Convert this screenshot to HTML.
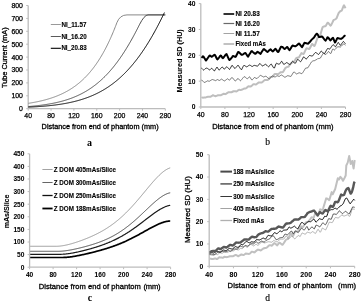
<!DOCTYPE html>
<html><head><meta charset="utf-8"><style>
html,body{margin:0;padding:0;background:#fff;width:362px;height:304px;overflow:hidden;}
svg{display:block;filter:grayscale(100%);}

</style></head><body>
<svg width="362" height="304" viewBox="0 0 362 304">
<rect width="362" height="304" fill="#fff"/>
<line x1="28.2" y1="5.5" x2="28.2" y2="108.7" stroke="#bcbcbc" stroke-width="1.3"/>
<line x1="28.2" y1="108.7" x2="165.3" y2="108.7" stroke="#bcbcbc" stroke-width="1.3"/>
<line x1="26.2" y1="108.7" x2="28.2" y2="108.7" stroke="#bcbcbc" stroke-width="1"/>
<text x="22.9" y="111.15" font-size="6.9" text-anchor="end" font-weight="normal" fill="#000" font-family='"Liberation Sans", sans-serif'  stroke="#000" stroke-width="0.25">0</text>
<line x1="26.2" y1="95.8" x2="28.2" y2="95.8" stroke="#bcbcbc" stroke-width="1"/>
<text x="22.9" y="98.25" font-size="6.9" text-anchor="end" font-weight="normal" fill="#000" font-family='"Liberation Sans", sans-serif'  stroke="#000" stroke-width="0.25">100</text>
<line x1="26.2" y1="82.9" x2="28.2" y2="82.9" stroke="#bcbcbc" stroke-width="1"/>
<text x="22.9" y="85.35" font-size="6.9" text-anchor="end" font-weight="normal" fill="#000" font-family='"Liberation Sans", sans-serif'  stroke="#000" stroke-width="0.25">200</text>
<line x1="26.2" y1="70" x2="28.2" y2="70" stroke="#bcbcbc" stroke-width="1"/>
<text x="22.9" y="72.45" font-size="6.9" text-anchor="end" font-weight="normal" fill="#000" font-family='"Liberation Sans", sans-serif'  stroke="#000" stroke-width="0.25">300</text>
<line x1="26.2" y1="57.1" x2="28.2" y2="57.1" stroke="#bcbcbc" stroke-width="1"/>
<text x="22.9" y="59.55" font-size="6.9" text-anchor="end" font-weight="normal" fill="#000" font-family='"Liberation Sans", sans-serif'  stroke="#000" stroke-width="0.25">400</text>
<line x1="26.2" y1="44.2" x2="28.2" y2="44.2" stroke="#bcbcbc" stroke-width="1"/>
<text x="22.9" y="46.65" font-size="6.9" text-anchor="end" font-weight="normal" fill="#000" font-family='"Liberation Sans", sans-serif'  stroke="#000" stroke-width="0.25">500</text>
<line x1="26.2" y1="31.3" x2="28.2" y2="31.3" stroke="#bcbcbc" stroke-width="1"/>
<text x="22.9" y="33.75" font-size="6.9" text-anchor="end" font-weight="normal" fill="#000" font-family='"Liberation Sans", sans-serif'  stroke="#000" stroke-width="0.25">600</text>
<line x1="26.2" y1="18.4" x2="28.2" y2="18.4" stroke="#bcbcbc" stroke-width="1"/>
<text x="22.9" y="20.85" font-size="6.9" text-anchor="end" font-weight="normal" fill="#000" font-family='"Liberation Sans", sans-serif'  stroke="#000" stroke-width="0.25">700</text>
<line x1="26.2" y1="5.5" x2="28.2" y2="5.5" stroke="#bcbcbc" stroke-width="1"/>
<text x="22.9" y="7.95" font-size="6.9" text-anchor="end" font-weight="normal" fill="#000" font-family='"Liberation Sans", sans-serif'  stroke="#000" stroke-width="0.25">800</text>
<line x1="28.2" y1="108.7" x2="28.2" y2="110.7" stroke="#bcbcbc" stroke-width="1"/>
<text x="28.2" y="118.25" font-size="6.9" text-anchor="middle" font-weight="normal" fill="#000" font-family='"Liberation Sans", sans-serif'  stroke="#000" stroke-width="0.25">40</text>
<line x1="51.05" y1="108.7" x2="51.05" y2="110.7" stroke="#bcbcbc" stroke-width="1"/>
<text x="51.05" y="118.25" font-size="6.9" text-anchor="middle" font-weight="normal" fill="#000" font-family='"Liberation Sans", sans-serif'  stroke="#000" stroke-width="0.25">80</text>
<line x1="73.9" y1="108.7" x2="73.9" y2="110.7" stroke="#bcbcbc" stroke-width="1"/>
<text x="73.9" y="118.25" font-size="6.9" text-anchor="middle" font-weight="normal" fill="#000" font-family='"Liberation Sans", sans-serif'  stroke="#000" stroke-width="0.25">120</text>
<line x1="96.75" y1="108.7" x2="96.75" y2="110.7" stroke="#bcbcbc" stroke-width="1"/>
<text x="96.75" y="118.25" font-size="6.9" text-anchor="middle" font-weight="normal" fill="#000" font-family='"Liberation Sans", sans-serif'  stroke="#000" stroke-width="0.25">160</text>
<line x1="119.6" y1="108.7" x2="119.6" y2="110.7" stroke="#bcbcbc" stroke-width="1"/>
<text x="119.6" y="118.25" font-size="6.9" text-anchor="middle" font-weight="normal" fill="#000" font-family='"Liberation Sans", sans-serif'  stroke="#000" stroke-width="0.25">200</text>
<line x1="142.45" y1="108.7" x2="142.45" y2="110.7" stroke="#bcbcbc" stroke-width="1"/>
<text x="142.45" y="118.25" font-size="6.9" text-anchor="middle" font-weight="normal" fill="#000" font-family='"Liberation Sans", sans-serif'  stroke="#000" stroke-width="0.25">240</text>
<line x1="165.3" y1="108.7" x2="165.3" y2="110.7" stroke="#bcbcbc" stroke-width="1"/>
<text x="165.3" y="118.25" font-size="6.9" text-anchor="middle" font-weight="normal" fill="#000" font-family='"Liberation Sans", sans-serif'  stroke="#000" stroke-width="0.25">280</text>
<text x="0" y="0" font-size="7.6" font-weight="normal" fill="#000" font-family='"Liberation Sans", sans-serif' textLength="60.6" lengthAdjust="spacingAndGlyphs" transform="translate(7 88) rotate(-90)" stroke="#000" stroke-width="0.3">Tube Current (mA)</text>
<text x="41.6" y="128.7" font-size="7.3" text-anchor="start" font-weight="normal" fill="#000" font-family='"Liberation Sans", sans-serif' textLength="117" lengthAdjust="spacing" stroke="#000" stroke-width="0.3">Distance from end of phantom (mm)</text>
<text x="89.6" y="145.6" font-size="10" text-anchor="middle" font-weight="bold" fill="#000" font-family='"Liberation Serif", serif'  >a</text>
<line x1="50.8" y1="24.5" x2="60.9" y2="24.5" stroke="#999" stroke-width="1"/>
<text x="61.4" y="26.6" font-size="6.4" text-anchor="start" font-weight="bold" fill="#000" font-family='"Liberation Sans", sans-serif' textLength="25.2" lengthAdjust="spacingAndGlyphs" stroke="#000" stroke-width="0.1">NI_11.57</text>
<line x1="50.8" y1="36.5" x2="60.9" y2="36.5" stroke="#5a5a5a" stroke-width="1"/>
<text x="61.4" y="38.6" font-size="6.4" text-anchor="start" font-weight="bold" fill="#000" font-family='"Liberation Sans", sans-serif' textLength="25.2" lengthAdjust="spacingAndGlyphs" stroke="#000" stroke-width="0.1">NI_16.20</text>
<line x1="50.8" y1="48.3" x2="60.9" y2="48.3" stroke="#000" stroke-width="1.1"/>
<text x="61.4" y="50.4" font-size="6.4" text-anchor="start" font-weight="bold" fill="#000" font-family='"Liberation Sans", sans-serif' textLength="25.2" lengthAdjust="spacingAndGlyphs" stroke="#000" stroke-width="0.1">NI_20.83</text>
<path d="M28.4 103.32 L28.9 103.24 L29.4 103.16 L29.9 103.08 L30.4 103 L30.9 102.92 L31.4 102.83 L31.9 102.75 L32.4 102.66 L32.9 102.57 L33.4 102.48 L33.9 102.39 L34.4 102.3 L34.9 102.2 L35.4 102.11 L35.9 102.01 L36.4 101.91 L36.9 101.81 L37.4 101.71 L37.9 101.6 L38.4 101.5 L38.9 101.39 L39.4 101.28 L39.9 101.17 L40.4 101.05 L40.9 100.94 L41.4 100.82 L41.9 100.7 L42.4 100.58 L42.9 100.46 L43.4 100.33 L43.9 100.2 L44.4 100.07 L44.9 99.94 L45.4 99.81 L45.9 99.67 L46.4 99.53 L46.9 99.39 L47.4 99.25 L47.9 99.1 L48.4 98.95 L48.9 98.8 L49.4 98.65 L49.9 98.49 L50.4 98.34 L50.9 98.17 L51.4 98.01 L51.9 97.84 L52.4 97.67 L52.9 97.5 L53.4 97.33 L53.9 97.15 L54.4 96.97 L54.9 96.78 L55.4 96.6 L55.9 96.41 L56.4 96.21 L56.9 96.01 L57.4 95.81 L57.9 95.61 L58.4 95.4 L58.9 95.19 L59.4 94.98 L59.9 94.76 L60.4 94.54 L60.9 94.31 L61.4 94.09 L61.9 93.85 L62.4 93.62 L62.9 93.38 L63.4 93.13 L63.9 92.88 L64.4 92.63 L64.9 92.37 L65.4 92.11 L65.9 91.84 L66.4 91.57 L66.9 91.3 L67.4 91.02 L67.9 90.74 L68.4 90.45 L68.9 90.15 L69.4 89.86 L69.9 89.55 L70.4 89.24 L70.9 88.93 L71.4 88.61 L71.9 88.29 L72.4 87.96 L72.9 87.62 L73.4 87.28 L73.9 86.93 L74.4 86.58 L74.9 86.22 L75.4 85.86 L75.9 85.49 L76.4 85.11 L76.9 84.73 L77.4 84.34 L77.9 83.95 L78.4 83.55 L78.9 83.14 L79.4 82.72 L79.9 82.3 L80.4 81.87 L80.9 81.44 L81.4 80.99 L81.9 80.54 L82.4 80.09 L82.9 79.62 L83.4 79.15 L83.9 78.67 L84.4 78.18 L84.9 77.68 L85.4 77.18 L85.9 76.67 L86.4 76.15 L86.9 75.62 L87.4 75.08 L87.9 74.53 L88.4 73.98 L88.9 73.41 L89.4 72.84 L89.9 72.26 L90.4 71.67 L90.9 71.07 L91.4 70.45 L91.9 69.83 L92.4 69.2 L92.9 68.56 L93.4 67.91 L93.9 67.25 L94.4 66.58 L94.9 65.89 L95.4 65.2 L95.9 64.5 L96.4 63.78 L96.9 63.05 L97.4 62.31 L97.9 61.56 L98.4 60.8 L98.9 60.03 L99.4 59.24 L99.9 58.44 L100.4 57.63 L100.9 56.81 L101.4 55.97 L101.9 55.12 L102.4 54.26 L102.9 53.39 L103.4 52.5 L103.9 51.59 L104.4 50.68 L104.9 49.74 L105.4 48.8 L105.9 47.84 L106.4 46.86 L106.9 45.87 L107.4 44.87 L107.9 43.85 L108.4 42.81 L108.9 41.76 L109.4 40.7 L109.9 39.61 L110.4 38.51 L110.9 37.4 L111.4 36.27 L111.9 35.12 L112.4 33.95 L112.9 32.77 L113.4 31.56 L113.9 30.35 L114.4 29.11 L114.9 27.85 L115.4 26.58 L115.9 25.29 L116.4 23.97 L116.9 22.64 Q119.88 14.9 127 14.9 L165.3 14.9" fill="none" stroke="#7a7a7a" stroke-width="0.9" stroke-linejoin="round" stroke-linecap="butt" />
<path d="M28.4 106.54 L28.9 106.5 L29.4 106.46 L29.9 106.42 L30.4 106.38 L30.9 106.33 L31.4 106.29 L31.9 106.24 L32.4 106.19 L32.9 106.15 L33.4 106.1 L33.9 106.05 L34.4 106 L34.9 105.95 L35.4 105.9 L35.9 105.84 L36.4 105.79 L36.9 105.73 L37.4 105.68 L37.9 105.62 L38.4 105.56 L38.9 105.5 L39.4 105.44 L39.9 105.38 L40.4 105.32 L40.9 105.25 L41.4 105.19 L41.9 105.12 L42.4 105.06 L42.9 104.99 L43.4 104.92 L43.9 104.85 L44.4 104.77 L44.9 104.7 L45.4 104.63 L45.9 104.55 L46.4 104.47 L46.9 104.39 L47.4 104.31 L47.9 104.23 L48.4 104.14 L48.9 104.06 L49.4 103.97 L49.9 103.88 L50.4 103.79 L50.9 103.7 L51.4 103.61 L51.9 103.51 L52.4 103.42 L52.9 103.32 L53.4 103.22 L53.9 103.12 L54.4 103.01 L54.9 102.91 L55.4 102.8 L55.9 102.69 L56.4 102.58 L56.9 102.47 L57.4 102.35 L57.9 102.24 L58.4 102.12 L58.9 102 L59.4 101.87 L59.9 101.75 L60.4 101.62 L60.9 101.49 L61.4 101.36 L61.9 101.22 L62.4 101.09 L62.9 100.95 L63.4 100.81 L63.9 100.66 L64.4 100.51 L64.9 100.37 L65.4 100.21 L65.9 100.06 L66.4 99.9 L66.9 99.75 L67.4 99.58 L67.9 99.42 L68.4 99.25 L68.9 99.08 L69.4 98.91 L69.9 98.73 L70.4 98.55 L70.9 98.37 L71.4 98.19 L71.9 98 L72.4 97.81 L72.9 97.61 L73.4 97.42 L73.9 97.22 L74.4 97.01 L74.9 96.8 L75.4 96.59 L75.9 96.38 L76.4 96.16 L76.9 95.94 L77.4 95.72 L77.9 95.49 L78.4 95.26 L78.9 95.02 L79.4 94.78 L79.9 94.54 L80.4 94.3 L80.9 94.05 L81.4 93.79 L81.9 93.53 L82.4 93.27 L82.9 93 L83.4 92.73 L83.9 92.46 L84.4 92.18 L84.9 91.9 L85.4 91.61 L85.9 91.32 L86.4 91.02 L86.9 90.72 L87.4 90.41 L87.9 90.1 L88.4 89.79 L88.9 89.47 L89.4 89.15 L89.9 88.82 L90.4 88.49 L90.9 88.15 L91.4 87.8 L91.9 87.45 L92.4 87.1 L92.9 86.74 L93.4 86.38 L93.9 86.01 L94.4 85.64 L94.9 85.26 L95.4 84.87 L95.9 84.48 L96.4 84.09 L96.9 83.68 L97.4 83.28 L97.9 82.86 L98.4 82.45 L98.9 82.02 L99.4 81.59 L99.9 81.16 L100.4 80.71 L100.9 80.27 L101.4 79.81 L101.9 79.35 L102.4 78.89 L102.9 78.42 L103.4 77.94 L103.9 77.45 L104.4 76.96 L104.9 76.47 L105.4 75.96 L105.9 75.45 L106.4 74.94 L106.9 74.41 L107.4 73.88 L107.9 73.35 L108.4 72.8 L108.9 72.25 L109.4 71.7 L109.9 71.13 L110.4 70.56 L110.9 69.99 L111.4 69.4 L111.9 68.81 L112.4 68.21 L112.9 67.61 L113.4 66.99 L113.9 66.37 L114.4 65.75 L114.9 65.11 L115.4 64.47 L115.9 63.82 L116.4 63.17 L116.9 62.5 L117.4 61.83 L117.9 61.15 L118.4 60.47 L118.9 59.77 L119.4 59.07 L119.9 58.37 L120.4 57.65 L120.9 56.93 L121.4 56.19 L121.9 55.46 L122.4 54.71 L122.9 53.96 L123.4 53.19 L123.9 52.42 L124.4 51.65 L124.9 50.86 L125.4 50.07 L125.9 49.27 L126.4 48.46 L126.9 47.64 L127.4 46.82 L127.9 45.99 L128.4 45.15 L128.9 44.3 L129.4 43.45 L129.9 42.59 L130.4 41.72 L130.9 40.84 L131.4 39.95 L131.9 39.06 L132.4 38.16 L132.9 37.25 L133.4 36.33 L133.9 35.41 L134.4 34.48 L134.9 33.54 L135.4 32.6 L135.9 31.64 L136.4 30.68 L136.9 29.71 L137.4 28.74 L137.9 27.75 L138.4 26.76 L138.9 25.77 L139.4 24.76 Q144.39 14.9 148 14.9 L165.3 14.9" fill="none" stroke="#3c3c3c" stroke-width="0.9" stroke-linejoin="round" stroke-linecap="butt" />
<path d="M28.4 107.15 L28.9 107.13 L29.4 107.1 L29.9 107.08 L30.4 107.05 L30.9 107.03 L31.4 107 L31.9 106.98 L32.4 106.95 L32.9 106.92 L33.4 106.9 L33.9 106.87 L34.4 106.84 L34.9 106.81 L35.4 106.78 L35.9 106.75 L36.4 106.72 L36.9 106.69 L37.4 106.66 L37.9 106.62 L38.4 106.59 L38.9 106.56 L39.4 106.52 L39.9 106.49 L40.4 106.45 L40.9 106.41 L41.4 106.37 L41.9 106.34 L42.4 106.3 L42.9 106.26 L43.4 106.22 L43.9 106.18 L44.4 106.13 L44.9 106.09 L45.4 106.05 L45.9 106 L46.4 105.96 L46.9 105.91 L47.4 105.86 L47.9 105.81 L48.4 105.77 L48.9 105.72 L49.4 105.66 L49.9 105.61 L50.4 105.56 L50.9 105.51 L51.4 105.45 L51.9 105.4 L52.4 105.34 L52.9 105.28 L53.4 105.22 L53.9 105.16 L54.4 105.1 L54.9 105.04 L55.4 104.97 L55.9 104.91 L56.4 104.84 L56.9 104.78 L57.4 104.71 L57.9 104.64 L58.4 104.57 L58.9 104.49 L59.4 104.42 L59.9 104.35 L60.4 104.27 L60.9 104.19 L61.4 104.11 L61.9 104.03 L62.4 103.95 L62.9 103.87 L63.4 103.78 L63.9 103.7 L64.4 103.61 L64.9 103.52 L65.4 103.43 L65.9 103.34 L66.4 103.24 L66.9 103.15 L67.4 103.05 L67.9 102.95 L68.4 102.85 L68.9 102.75 L69.4 102.64 L69.9 102.54 L70.4 102.43 L70.9 102.32 L71.4 102.21 L71.9 102.1 L72.4 101.98 L72.9 101.87 L73.4 101.75 L73.9 101.63 L74.4 101.5 L74.9 101.38 L75.4 101.25 L75.9 101.12 L76.4 100.99 L76.9 100.86 L77.4 100.73 L77.9 100.59 L78.4 100.45 L78.9 100.31 L79.4 100.16 L79.9 100.02 L80.4 99.87 L80.9 99.72 L81.4 99.57 L81.9 99.41 L82.4 99.25 L82.9 99.09 L83.4 98.93 L83.9 98.77 L84.4 98.6 L84.9 98.43 L85.4 98.25 L85.9 98.08 L86.4 97.9 L86.9 97.72 L87.4 97.54 L87.9 97.35 L88.4 97.16 L88.9 96.97 L89.4 96.77 L89.9 96.57 L90.4 96.37 L90.9 96.17 L91.4 95.96 L91.9 95.75 L92.4 95.54 L92.9 95.32 L93.4 95.1 L93.9 94.88 L94.4 94.65 L94.9 94.42 L95.4 94.19 L95.9 93.95 L96.4 93.71 L96.9 93.47 L97.4 93.22 L97.9 92.97 L98.4 92.72 L98.9 92.46 L99.4 92.2 L99.9 91.94 L100.4 91.67 L100.9 91.39 L101.4 91.12 L101.9 90.84 L102.4 90.55 L102.9 90.27 L103.4 89.98 L103.9 89.68 L104.4 89.38 L104.9 89.08 L105.4 88.77 L105.9 88.46 L106.4 88.14 L106.9 87.82 L107.4 87.49 L107.9 87.16 L108.4 86.83 L108.9 86.49 L109.4 86.15 L109.9 85.8 L110.4 85.45 L110.9 85.09 L111.4 84.73 L111.9 84.37 L112.4 84 L112.9 83.62 L113.4 83.24 L113.9 82.86 L114.4 82.47 L114.9 82.07 L115.4 81.67 L115.9 81.27 L116.4 80.86 L116.9 80.45 L117.4 80.03 L117.9 79.6 L118.4 79.17 L118.9 78.74 L119.4 78.3 L119.9 77.85 L120.4 77.4 L120.9 76.94 L121.4 76.48 L121.9 76.01 L122.4 75.54 L122.9 75.06 L123.4 74.58 L123.9 74.09 L124.4 73.59 L124.9 73.09 L125.4 72.59 L125.9 72.07 L126.4 71.56 L126.9 71.03 L127.4 70.5 L127.9 69.97 L128.4 69.42 L128.9 68.88 L129.4 68.32 L129.9 67.76 L130.4 67.2 L130.9 66.62 L131.4 66.05 L131.9 65.46 L132.4 64.87 L132.9 64.27 L133.4 63.67 L133.9 63.06 L134.4 62.44 L134.9 61.82 L135.4 61.19 L135.9 60.55 L136.4 59.91 L136.9 59.26 L137.4 58.6 L137.9 57.94 L138.4 57.27 L138.9 56.6 L139.4 55.91 L139.9 55.22 L140.4 54.53 L140.9 53.82 L141.4 53.11 L141.9 52.4 L142.4 51.67 L142.9 50.94 L143.4 50.2 L143.9 49.46 L144.4 48.7 L144.9 47.94 L145.4 47.18 L145.9 46.4 L146.4 45.62 L146.9 44.84 L147.4 44.04 L147.9 43.24 L148.4 42.43 L148.9 41.61 L149.4 40.79 L149.9 39.95 L150.4 39.11 L150.9 38.27 L151.4 37.41 L151.9 36.55 L152.4 35.68 L152.9 34.81 L153.4 33.92 L153.9 33.03 L154.4 32.14 L154.9 31.23 L155.4 30.32 L155.9 29.39 L156.4 28.47 L156.9 27.53 L157.4 26.59 L157.9 25.64 L158.4 24.68 L158.9 23.71 L159.4 22.74 L159.9 21.76 L160.4 20.77 L160.9 19.77 L161.4 18.77 L161.9 17.76 L162.4 16.74 L162.9 15.71 L163.4 14.68 L163.9 13.64 L164.4 12.59" fill="none" stroke="#000" stroke-width="1" stroke-linejoin="round" stroke-linecap="butt" />
<line x1="200.8" y1="3.6" x2="200.8" y2="107" stroke="#bcbcbc" stroke-width="1.3"/>
<line x1="200.8" y1="107" x2="345.5" y2="107" stroke="#bcbcbc" stroke-width="1.3"/>
<line x1="198.8" y1="107" x2="200.8" y2="107" stroke="#bcbcbc" stroke-width="1"/>
<text x="195.4" y="109.38" font-size="6.7" text-anchor="end" font-weight="bold" fill="#000" font-family='"Liberation Sans", sans-serif'  stroke="#000" stroke-width="0.05">0</text>
<line x1="198.8" y1="81.15" x2="200.8" y2="81.15" stroke="#bcbcbc" stroke-width="1"/>
<text x="195.4" y="83.53" font-size="6.7" text-anchor="end" font-weight="bold" fill="#000" font-family='"Liberation Sans", sans-serif'  stroke="#000" stroke-width="0.05">10</text>
<line x1="198.8" y1="55.3" x2="200.8" y2="55.3" stroke="#bcbcbc" stroke-width="1"/>
<text x="195.4" y="57.68" font-size="6.7" text-anchor="end" font-weight="bold" fill="#000" font-family='"Liberation Sans", sans-serif'  stroke="#000" stroke-width="0.05">20</text>
<line x1="198.8" y1="29.45" x2="200.8" y2="29.45" stroke="#bcbcbc" stroke-width="1"/>
<text x="195.4" y="31.83" font-size="6.7" text-anchor="end" font-weight="bold" fill="#000" font-family='"Liberation Sans", sans-serif'  stroke="#000" stroke-width="0.05">30</text>
<line x1="198.8" y1="3.6" x2="200.8" y2="3.6" stroke="#bcbcbc" stroke-width="1"/>
<text x="195.4" y="5.98" font-size="6.7" text-anchor="end" font-weight="bold" fill="#000" font-family='"Liberation Sans", sans-serif'  stroke="#000" stroke-width="0.05">40</text>
<line x1="200.8" y1="107" x2="200.8" y2="109" stroke="#bcbcbc" stroke-width="1"/>
<text x="200.8" y="116.95" font-size="6.9" text-anchor="middle" font-weight="normal" fill="#000" font-family='"Liberation Sans", sans-serif'  stroke="#000" stroke-width="0.25">40</text>
<line x1="224.92" y1="107" x2="224.92" y2="109" stroke="#bcbcbc" stroke-width="1"/>
<text x="224.92" y="116.95" font-size="6.9" text-anchor="middle" font-weight="normal" fill="#000" font-family='"Liberation Sans", sans-serif'  stroke="#000" stroke-width="0.25">80</text>
<line x1="249.03" y1="107" x2="249.03" y2="109" stroke="#bcbcbc" stroke-width="1"/>
<text x="249.03" y="116.95" font-size="6.9" text-anchor="middle" font-weight="normal" fill="#000" font-family='"Liberation Sans", sans-serif'  stroke="#000" stroke-width="0.25">120</text>
<line x1="273.15" y1="107" x2="273.15" y2="109" stroke="#bcbcbc" stroke-width="1"/>
<text x="273.15" y="116.95" font-size="6.9" text-anchor="middle" font-weight="normal" fill="#000" font-family='"Liberation Sans", sans-serif'  stroke="#000" stroke-width="0.25">160</text>
<line x1="297.27" y1="107" x2="297.27" y2="109" stroke="#bcbcbc" stroke-width="1"/>
<text x="297.27" y="116.95" font-size="6.9" text-anchor="middle" font-weight="normal" fill="#000" font-family='"Liberation Sans", sans-serif'  stroke="#000" stroke-width="0.25">200</text>
<line x1="321.38" y1="107" x2="321.38" y2="109" stroke="#bcbcbc" stroke-width="1"/>
<text x="321.38" y="116.95" font-size="6.9" text-anchor="middle" font-weight="normal" fill="#000" font-family='"Liberation Sans", sans-serif'  stroke="#000" stroke-width="0.25">240</text>
<line x1="345.5" y1="107" x2="345.5" y2="109" stroke="#bcbcbc" stroke-width="1"/>
<text x="345.5" y="116.95" font-size="6.9" text-anchor="middle" font-weight="normal" fill="#000" font-family='"Liberation Sans", sans-serif'  stroke="#000" stroke-width="0.25">280</text>
<text x="0" y="0" font-size="7.5" font-weight="bold" fill="#000" font-family='"Liberation Sans", sans-serif' textLength="63.3" lengthAdjust="spacingAndGlyphs" transform="translate(181.9 92.5) rotate(-90)" stroke="#000" stroke-width="0.1">Measured SD (HU)</text>
<text x="212.2" y="128.8" font-size="7.55" text-anchor="start" font-weight="normal" fill="#000" font-family='"Liberation Sans", sans-serif' textLength="121.3" lengthAdjust="spacing" stroke="#000" stroke-width="0.3">Distance from end of phantom (mm)</text>
<text x="267.6" y="145.1" font-size="9.5" text-anchor="middle" font-weight="normal" fill="#000" font-family='"Liberation Serif", serif'  stroke="#000" stroke-width="0.15">b</text>
<path d="M201.5 97.97 L202 97.68 L202.5 97.62 L203 97.62 L203.5 97.63 L204 97.62 L204.5 97.61 L205 97.59 L205.5 97.5 L206 97.33 L206.5 97.16 L207 96.99 L207.5 96.84 L208 96.83 L208.5 96.82 L209 96.81 L209.5 96.8 L210 96.78 L210.5 96.76 L211 96.48 L211.5 96.15 L212 95.83 L212.5 95.51 L213 95.27 L213.5 95.46 L214 95.66 L214.5 95.85 L215 96.04 L215.5 96.19 L216 96.01 L216.5 95.83 L217 95.65 L217.5 95.48 L218 95.31 L218.5 95.17 L219 95.24 L219.5 95.32 L220 95.31 L220.5 95.27 L221 95.19 L221.5 94.92 L222 94.64 L222.5 94.35 L223 94.07 L223.5 93.78 L224 93.81 L224.5 93.92 L225 94.03 L225.5 94.14 L226 93.9 L226.5 93.53 L227 93.15 L227.5 92.82 L228 92.48 L228.5 92.15 L229 92.18 L229.5 92.23 L230 92.28 L230.5 92.32 L231 92.37 L231.5 92.23 L232 91.99 L232.5 91.74 L233 91.49 L233.5 91.24 L234 91.23 L234.5 91.27 L235 91.3 L235.5 91.34 L236 91.39 L236.5 91.44 L237 91.12 L237.5 90.78 L238 90.45 L238.5 90.11 L239 89.86 L239.5 89.87 L240 89.89 L240.5 89.89 L241 89.89 L241.5 89.86 L242 89.59 L242.5 89.32 L243 89.06 L243.5 88.77 L244 88.66 L244.5 88.59 L245 88.51 L245.5 88.43 L246 88.34 L246.5 87.94 L247 87.48 L247.5 87.03 L248 86.57 L248.5 86.3 L249 86.36 L249.5 86.41 L250 86.48 L250.5 86.57 L251 86.3 L251.5 85.89 L252 85.48 L252.5 85.05 L253 84.61 L253.5 84.15 L254 84.19 L254.5 84.28 L255 84.38 L255.5 84.5 L256 84.5 L256.5 84.14 L257 83.77 L257.5 83.39 L258 82.99 L258.5 82.61 L259 82.56 L259.5 82.53 L260 82.52 L260.5 82.53 L261 82.56 L261.5 82.6 L262 82.33 L262.5 81.94 L263 81.54 L263.5 81.09 L264 80.63 L264.5 80.18 L265 79.94 L265.5 79.96 L266 80 L266.5 80.03 L267 80.06 L267.5 80.09 L268 79.75 L268.5 79.23 L269 78.63 L269.5 78.03 L270 77.42 L270.5 77.04 L271 77 L271.5 76.97 L272 76.95 L272.5 76.91 L273 76.37 L273.5 75.62 L274 74.88 L274.5 74.23 L275 73.9 L275.5 73.93 L276 73.98 L276.5 74.04 L277 74.11 L277.5 74.19 L278 74.27 L278.5 73.91 L279 73.54 L279.5 73.15 L280 72.76 L280.5 72.29 L281 72.17 L281.5 72.21 L282 72.25 L282.5 72.29 L283 71.94 L283.5 71.17 L284 70.37 L284.5 69.54 L285 68.68 L285.5 67.83 L286 67.56 L286.5 67.29 L287 67.09 L287.5 66.92 L288 66.75 L288.5 66.51 L289 65.87 L289.5 65.22 L290 64.57 L290.5 63.91 L291 63.25 L291.5 62.85 L292 62.58 L292.5 62.31 L293 62.05 L293.5 61.83 L294 61.57 L294.5 61.04 L295 60.19 L295.5 59.33 L296 58.47 L296.5 57.9 L297 57.8 L297.5 57.7 L298 57.6 L298.5 57.5 L299 57.31 L299.5 56.48 L300 55.62 L300.5 54.78 L301 53.94 L301.5 53.11 L302 53.34 L302.5 53.59 L303 53.83 L303.5 54.07 L304 53.24 L304.5 52.21 L305 51.16 L305.5 50.09 L306 49.01 L306.5 48.3 L307 48.4 L307.5 48.52 L308 48.66 L308.5 48.81 L309 48.96 L309.5 48.9 L310 47.95 L310.5 46.97 L311 45.98 L311.5 45 L312 44 L312.5 44.26 L313 44.77 L313.5 45.29 L314 45.81 L314.5 45.94 L315 44.79 L315.5 43.55 L316 42.2 L316.5 40.76 L317 39.28 L317.5 37.82 L318 37.45 L318.5 37.1 L319 36.77 L319.5 36.47 L320 36.21 L320.5 34.38 L321 32.58 L321.5 30.84 L322 29.15 L322.5 27.49 L323 26.87 L323.5 26.62 L324 26.44 L324.5 26.31 L325 26.21 L325.5 26.25 L326 25.45 L326.5 24.59 L327 23.71 L327.5 22.83 L328 22.77 L328.5 23.29 L329 23.85 L329.5 24.43 L330 25.03 L330.5 25.64 L331 25.28 L331.5 24.33 L332 23.33 L332.5 22.32 L333 21.29 L333.5 20.16 L334 19.9 L334.5 19.66 L335 19.38 L335.5 19.07 L336 18.72 L336.5 18.28 L337 17.09 L337.5 15.87 L338 14.63 L338.5 13.37 L339 12.58 L339.5 12.06 L340 11.55 L340.5 11.05 L341 10.8 L341.5 10.86 L342 9.97 L342.5 8.7 L343 7.38 L343.5 6.03 L344 5.25 L344.5 6.22 L345 7.21 L345.5 8.19" fill="none" stroke="#bebebe" stroke-width="2" stroke-linejoin="round" stroke-linecap="butt" />
<path d="M201.5 80.13 L202 80.08 L202.5 80.67 L203 81.25 L203.5 81.84 L204 82.41 L204.5 82.39 L205 82.19 L205.5 81.99 L206 81.78 L206.5 81.46 L207 81.09 L207.5 80.84 L208 80.98 L208.5 81.11 L209 81.23 L209.5 81.2 L210 80.86 L210.5 80.53 L211 80.21 L211.5 79.89 L212 79.58 L212.5 79.53 L213 79.69 L213.5 79.86 L214 80.03 L214.5 80.21 L215 80.48 L215.5 80.65 L216 80.36 L216.5 80.08 L217 79.8 L217.5 79.55 L218 79.82 L218.5 80.1 L219 80.36 L219.5 80.46 L220 80.11 L220.5 79.77 L221 79.43 L221.5 79.1 L222 79.28 L222.5 79.71 L223 80.13 L223.5 80.46 L224 80.69 L224.5 80.91 L225 80.69 L225.5 80.28 L226 79.88 L226.5 79.48 L227 79.08 L227.5 78.75 L228 79.12 L228.5 79.49 L229 79.86 L229.5 80.22 L230 79.66 L230.5 79.02 L231 78.36 L231.5 77.75 L232 77.43 L232.5 77.81 L233 78.4 L233.5 79.01 L234 79.64 L234.5 80.3 L235 80.96 L235.5 80.85 L236 80.5 L236.5 80.13 L237 79.46 L237.5 78.66 L238 78.62 L238.5 79 L239 79.41 L239.5 79.84 L240 80.3 L240.5 80.73 L241 80.38 L241.5 79.77 L242 79.14 L242.5 78.49 L243 77.87 L243.5 77.27 L244 76.71 L244.5 76.75 L245 77.05 L245.5 77.37 L246 77.84 L246.5 78.31 L247 78.77 L247.5 78.63 L248 78.16 L248.5 77.71 L249 77.27 L249.5 76.86 L250 77.21 L250.5 78.04 L251 78.88 L251.5 79.7 L252 80.08 L252.5 79.63 L253 79.16 L253.5 78.49 L254 77.79 L254.5 77.54 L255 77.74 L255.5 77.96 L256 78.18 L256.5 78.42 L257 78.61 L257.5 78.08 L258 77.54 L258.5 77.02 L259 76.6 L259.5 76.15 L260 75.68 L260.5 75.4 L261 75.61 L261.5 75.85 L262 76.12 L262.5 76.42 L263 76.71 L263.5 76.97 L264 76.83 L264.5 76.63 L265 76.46 L265.5 76.28 L266 76.19 L266.5 76.63 L267 77.09 L267.5 77.55 L268 78 L268.5 78.44 L269 78.85 L269.5 79.05 L270 78.41 L270.5 77.78 L271 77.14 L271.5 76.52 L272 75.87 L272.5 75.99 L273 76.21 L273.5 76.42 L274 76.64 L274.5 76.84 L275 77.04 L275.5 76.79 L276 76.44 L276.5 76.09 L277 75.75 L277.5 75.82 L278 76 L278.5 76.21 L279 76.51 L279.5 76.25 L280 75.88 L280.5 75.48 L281 75.06 L281.5 75 L282 75.32 L282.5 75.63 L283 75.96 L283.5 76.32 L284 76.7 L284.5 77.09 L285 77.16 L285.5 76.98 L286 76.7 L286.5 76.4 L287 76.07 L287.5 75.73 L288 75.71 L288.5 75.84 L289 75.98 L289.5 76.12 L290 76.25 L290.5 76.35 L291 76.41 L291.5 75.58 L292 74.73 L292.5 73.87 L293 73.03 L293.5 72.26 L294 71.82 L294.5 72.23 L295 72.66 L295.5 73.1 L296 73.54 L296.5 73.94 L297 73.76 L297.5 73.56 L298 73.32 L298.5 73.06 L299 72.81 L299.5 72.82 L300 73.02 L300.5 73.21 L301 73.4 L301.5 73.59 L302 73.57 L302.5 72.97 L303 72.24 L303.5 71.47 L304 70.66 L304.5 69.83 L305 68.99 L305.5 68.24 L306 68.14 L306.5 68.03 L307 67.92 L307.5 67.81 L308 67.68 L308.5 66.84 L309 65.92 L309.5 65.17 L310 64.37 L310.5 63.53 L311 62.68 L311.5 61.91 L312 61.5 L312.5 61.16 L313 60.91 L313.5 60.75 L314 60.72 L314.5 60.65 L315 60.37 L315.5 60.09 L316 59.81 L316.5 59.56 L317 59.34 L317.5 58.77 L318 58.59 L318.5 58.55 L319 58.5 L319.5 58.42 L320 58.3 L320.5 57.9 L321 57.04 L321.5 56.17 L322 55.31 L322.5 54.47 L323 53.67 L323.5 53.11 L324 53.37 L324.5 53.74 L325 54.1 L325.5 54.47 L326 54.42 L326.5 53.83 L327 53.25 L327.5 52.66 L328 52.06 L328.5 51.45 L329 51.98 L329.5 52.56 L330 53.14 L330.5 53.73 L331 53.21 L331.5 51.9 L332 50.6 L332.5 49.31 L333 48.95 L333.5 49.29 L334 49.64 L334.5 50.01 L335 49.56 L335.5 49.01 L336 48.46 L336.5 47.92 L337 47.37 L337.5 46.81 L338 46.72 L338.5 46.77 L339 46.81 L339.5 46.87 L340 46.95 L340.5 46.94 L341 46.47 L341.5 46 L342 45.5 L342.5 44.97 L343 44.42 L343.5 43.86 L344 43.94 L344.5 44.32 L345 44.71 L345.5 45.1" fill="none" stroke="#505050" stroke-width="0.8" stroke-linejoin="round" stroke-linecap="butt" />
<path d="M201.5 68.13 L202 68.62 L202.5 69.12 L203 69.59 L203.5 70.05 L204 69.86 L204.5 69.3 L205 68.8 L205.5 68.56 L206 68.33 L206.5 68.12 L207 68.02 L207.5 68.43 L208 68.83 L208.5 69.21 L209 69.57 L209.5 69.9 L210 69.83 L210.5 69.3 L211 68.77 L211.5 68.27 L212 68.38 L212.5 68.98 L213 69.59 L213.5 70.2 L214 70.82 L214.5 70.91 L215 70.1 L215.5 69.29 L216 68.5 L216.5 67.71 L217 67 L217.5 67.8 L218 68.61 L218.5 69.42 L219 70.23 L219.5 69.82 L220 69.22 L220.5 68.63 L221 68.06 L221.5 67.49 L222 66.94 L222.5 67.14 L223 67.81 L223.5 68.49 L224 69.15 L224.5 69.07 L225 68.53 L225.5 67.96 L226 67.37 L226.5 66.79 L227 66.86 L227.5 67.38 L228 67.93 L228.5 68.52 L229 69.11 L229.5 69.51 L230 68.73 L230.5 67.91 L231 67.05 L231.5 66.18 L232 65.27 L232.5 65.72 L233 66.21 L233.5 66.83 L234 67.51 L234.5 68.21 L235 68.56 L235.5 68.02 L236 67.45 L236.5 66.85 L237 66.24 L237.5 65.63 L238 65.07 L238.5 65.79 L239 66.54 L239.5 67.3 L240 68.08 L240.5 68.77 L241 69.31 L241.5 69.83 L242 68.84 L242.5 67.79 L243 66.76 L243.5 65.75 L244 65.22 L244.5 65.54 L245 65.87 L245.5 66.2 L246 66.52 L246.5 66.82 L247 66.83 L247.5 66.44 L248 66.04 L248.5 65.67 L249 65.38 L249.5 65.12 L250 65.08 L250.5 65.44 L251 65.8 L251.5 66.16 L252 66.52 L252.5 66.41 L253 66.05 L253.5 65.68 L254 65.3 L254.5 65.4 L255 65.51 L255.5 65.63 L256 65.76 L256.5 65.89 L257 66.01 L257.5 66.23 L258 65.67 L258.5 65.04 L259 64.39 L259.5 63.75 L260 63.44 L260.5 64.02 L261 64.61 L261.5 65.22 L262 65.81 L262.5 65.95 L263 65.72 L263.5 65.45 L264 65.15 L264.5 64.84 L265 64.53 L265.5 64.27 L266 64.54 L266.5 65.02 L267 65.51 L267.5 66 L268 66.49 L268.5 66.94 L269 66.33 L269.5 65.71 L270 65.08 L270.5 64.46 L271 63.88 L271.5 64.34 L272 65.21 L272.5 66.09 L273 66.95 L273.5 67.73 L274 68.17 L274.5 67.95 L275 66.52 L275.5 65.09 L276 63.67 L276.5 63.28 L277 63.47 L277.5 63.68 L278 63.9 L278.5 64.12 L279 64.34 L279.5 64.12 L280 63.45 L280.5 62.74 L281 62.04 L281.5 61.33 L282 61.49 L282.5 62.37 L283 63.28 L283.5 64.2 L284 64.38 L284.5 64.08 L285 63.77 L285.5 63.41 L286 63.02 L286.5 62.61 L287 62.66 L287.5 63 L288 63.36 L288.5 63.72 L289 64.07 L289.5 64.41 L290 64.73 L290.5 64.26 L291 63.44 L291.5 62.58 L292 61.72 L292.5 61.28 L293 61.66 L293.5 62.08 L294 62.53 L294.5 62.98 L295 63.39 L295.5 63.16 L296 62.21 L296.5 61.27 L297 60.31 L297.5 59.34 L298 59.48 L298.5 59.92 L299 60.36 L299.5 60.8 L300 61.24 L300.5 61.67 L301 61.43 L301.5 60.57 L302 59.67 L302.5 58.73 L303 57.79 L303.5 57.04 L304 56.73 L304.5 57.35 L305 57.98 L305.5 58.63 L306 59.28 L306.5 58.8 L307 58.23 L307.5 57.66 L308 57.07 L308.5 56.48 L309 55.88 L309.5 55.5 L310 55.57 L310.5 55.67 L311 55.81 L311.5 55.98 L312 56.14 L312.5 55.99 L313 55.34 L313.5 54.68 L314 54.02 L314.5 53.38 L315 52.8 L315.5 52.5 L316 52.7 L316.5 52.99 L317 53.32 L317.5 53.7 L318 54.1 L318.5 54.51 L319 54.09 L319.5 53.4 L320 52.69 L320.5 51.95 L321 51.18 L321.5 51.24 L322 51.72 L322.5 52.16 L323 52.69 L323.5 53.22 L324 53.71 L324.5 53.76 L325 52.88 L325.5 51.98 L326 51.08 L326.5 50.22 L327 49.39 L327.5 48.57 L328 48.35 L328.5 48.65 L329 48.92 L329.5 49.11 L330 48.79 L330.5 48.08 L331 47.35 L331.5 46.62 L332 45.93 L332.5 45.28 L333 44.67 L333.5 44.96 L334 45.41 L334.5 45.87 L335 46.33 L335.5 46.76 L336 46.04 L336.5 45.18 L337 44.32 L337.5 43.44 L338 42.55 L338.5 42.62 L339 43.44 L339.5 44.28 L340 45.14 L340.5 45.31 L341 44.61 L341.5 43.91 L342 43.19 L342.5 42.47 L343 41.73 L343.5 41.49 L344 42.1 L344.5 42.63 L345 43.16 L345.5 43.71" fill="none" stroke="#1a1a1a" stroke-width="0.95" stroke-linejoin="round" stroke-linecap="butt" />
<path d="M201.5 57.93 L202 57.37 L202.5 56.81 L203 56.26 L203.5 56.58 L204 57.41 L204.5 58.26 L205 59.11 L205.5 59.96 L206 60.55 L206.5 59.9 L207 59.2 L207.5 58.48 L208 57.75 L208.5 57.04 L209 56.34 L209.5 55.66 L210 55.5 L210.5 55.92 L211 56.35 L211.5 56.78 L212 56.62 L212.5 56.23 L213 55.85 L213.5 55.44 L214 55.06 L214.5 54.71 L215 55.04 L215.5 56 L216 56.98 L216.5 58 L217 59 L217.5 59.34 L218 58.79 L218.5 58.2 L219 57.56 L219.5 56.88 L220 56.16 L220.5 55.47 L221 55.64 L221.5 56.35 L222 57.08 L222.5 57.82 L223 58.14 L223.5 57.53 L224 56.9 L224.5 56.25 L225 55.59 L225.5 54.93 L226 54.29 L226.5 54.05 L227 55.1 L227.5 56.2 L228 57.32 L228.5 58.45 L229 59.57 L229.5 59.97 L230 59.49 L230.5 58.99 L231 58.45 L231.5 57.91 L232 57.31 L232.5 56.47 L233 55.91 L233.5 56.13 L234 56.35 L234.5 56.55 L235 56.75 L235.5 56.93 L236 56.28 L236.5 55.28 L237 54.26 L237.5 53.24 L238 52.21 L238.5 51.9 L239 52.32 L239.5 52.79 L240 53.28 L240.5 53.78 L241 54.27 L241.5 54.77 L242 54.8 L242.5 54.56 L243 54.29 L243.5 53.99 L244 53.68 L244.5 53.36 L245 53.08 L245.5 52.94 L246 53.73 L246.5 54.51 L247 55.28 L247.5 56.04 L248 56.72 L248.5 55.91 L249 55.09 L249.5 54.27 L250 53.47 L250.5 52.68 L251 51.89 L251.5 51.13 L252 51.09 L252.5 51.62 L253 52.15 L253.5 52.63 L254 52.99 L254.5 53.34 L255 53.68 L255.5 53.79 L256 53.26 L256.5 52.74 L257 52.24 L257.5 51.75 L258 52.04 L258.5 52.42 L259 52.79 L259.5 53.15 L260 53.52 L260.5 53.87 L261 53.17 L261.5 52.33 L262 51.55 L262.5 50.78 L263 50.02 L263.5 49.29 L264 49.1 L264.5 49.49 L265 49.91 L265.5 50.36 L266 50.81 L266.5 51.24 L267 51.65 L267.5 51.93 L268 51.47 L268.5 51 L269 50.56 L269.5 50.14 L270 49.75 L270.5 49.35 L271 49.77 L271.5 50.34 L272 50.9 L272.5 51.43 L273 51.23 L273.5 50.72 L274 50.2 L274.5 49.67 L275 49.14 L275.5 48.76 L276 49.45 L276.5 50.15 L277 50.88 L277.5 51.58 L278 52.07 L278.5 51.75 L279 50.78 L279.5 49.78 L280 48.75 L280.5 47.74 L281 46.73 L281.5 46.76 L282 46.87 L282.5 47.05 L283 47.54 L283.5 48.02 L284 48.47 L284.5 48.91 L285 48.87 L285.5 48.38 L286 47.89 L286.5 47.41 L287 46.96 L287.5 47.18 L288 48.03 L288.5 48.9 L289 49.56 L289.5 50.14 L290 49.43 L290.5 48.68 L291 47.88 L291.5 47.03 L292 46.15 L292.5 45.58 L293 45.68 L293.5 45.8 L294 45.95 L294.5 46.11 L295 46.3 L295.5 46.31 L296 45.9 L296.5 45.55 L297 45.16 L297.5 44.75 L298 44.31 L298.5 43.88 L299 43.46 L299.5 43.93 L300 44.62 L300.5 45.29 L301 45.93 L301.5 46.55 L302 47.16 L302.5 46.44 L303 45.52 L303.5 44.56 L304 43.59 L304.5 42.82 L305 42.94 L305.5 43.07 L306 43.2 L306.5 43.32 L307 43.45 L307.5 43.57 L308 43.67 L308.5 43.24 L309 42.73 L309.5 42.2 L310 41.7 L310.5 41.2 L311 40.48 L311.5 39.94 L312 39.41 L312.5 38.91 L313 38.43 L313.5 37.98 L314 37.56 L314.5 36.66 L315 35.86 L315.5 35.15 L316 34.48 L316.5 33.87 L317 33.83 L317.5 34.31 L318 34.99 L318.5 36.03 L319 37 L319.5 36.97 L320 36.9 L320.5 36.79 L321 36.66 L321.5 36.55 L322 36.45 L322.5 36.87 L323 37.55 L323.5 38.24 L324 38.9 L324.5 39.53 L325 40.12 L325.5 40.68 L326 39.98 L326.5 39.17 L327 38.24 L327.5 37.35 L328 37.41 L328.5 38.01 L329 38.63 L329.5 39.3 L330 39.99 L330.5 40.44 L331 39.85 L331.5 39.26 L332 38.68 L332.5 38.11 L333 37.75 L333.5 38.94 L334 40.13 L334.5 41.33 L335 42.53 L335.5 41.85 L336 40.86 L336.5 39.81 L337 38.71 L337.5 38.07 L338 38.22 L338.5 38.34 L339 38.45 L339.5 38.56 L340 38.65 L340.5 38.75 L341 38.94 L341.5 38.67 L342 38.31 L342.5 37.89 L343 37.41 L343.5 36.87 L344 36.33 L344.5 35.79 L345 35.83 L345.5 36.03" fill="none" stroke="#000" stroke-width="2" stroke-linejoin="round" stroke-linecap="butt" />
<line x1="223.5" y1="14" x2="234.2" y2="14" stroke="#000" stroke-width="1.6"/>
<text x="235.4" y="16.1" font-size="6.5" text-anchor="start" font-weight="bold" fill="#000" font-family='"Liberation Sans", sans-serif' textLength="24.4" lengthAdjust="spacingAndGlyphs" stroke="#000" stroke-width="0.1">NI 20.83</text>
<line x1="223.5" y1="23.5" x2="234.2" y2="23.5" stroke="#6a6a6a" stroke-width="1.2"/>
<text x="235.4" y="25.6" font-size="6.5" text-anchor="start" font-weight="bold" fill="#000" font-family='"Liberation Sans", sans-serif' textLength="24.4" lengthAdjust="spacingAndGlyphs" stroke="#000" stroke-width="0.1">NI 16.20</text>
<line x1="223.5" y1="33.5" x2="234.2" y2="33.5" stroke="#999" stroke-width="0.9"/>
<text x="235.4" y="35.6" font-size="6.5" text-anchor="start" font-weight="bold" fill="#000" font-family='"Liberation Sans", sans-serif' textLength="24.4" lengthAdjust="spacingAndGlyphs" stroke="#000" stroke-width="0.1">NI 11.57</text>
<line x1="223.5" y1="44" x2="234.2" y2="44" stroke="#bbb" stroke-width="1.8"/>
<text x="235.4" y="46.1" font-size="6.5" text-anchor="start" font-weight="bold" fill="#000" font-family='"Liberation Sans", sans-serif' textLength="30.6" lengthAdjust="spacingAndGlyphs" stroke="#000" stroke-width="0.1">Fixed mAs</text>
<line x1="29.6" y1="153.8" x2="29.6" y2="267.2" stroke="#bcbcbc" stroke-width="1.3"/>
<line x1="29.6" y1="267.2" x2="170.6" y2="267.2" stroke="#bcbcbc" stroke-width="1.3"/>
<line x1="27.6" y1="267.2" x2="29.6" y2="267.2" stroke="#bcbcbc" stroke-width="1"/>
<text x="24.4" y="269.54" font-size="6.6" text-anchor="end" font-weight="bold" fill="#000" font-family='"Liberation Sans", sans-serif'  stroke="#000" stroke-width="0.05">0</text>
<line x1="27.6" y1="254.6" x2="29.6" y2="254.6" stroke="#bcbcbc" stroke-width="1"/>
<text x="24.4" y="256.94" font-size="6.6" text-anchor="end" font-weight="bold" fill="#000" font-family='"Liberation Sans", sans-serif'  stroke="#000" stroke-width="0.05">50</text>
<line x1="27.6" y1="242" x2="29.6" y2="242" stroke="#bcbcbc" stroke-width="1"/>
<text x="24.4" y="244.34" font-size="6.6" text-anchor="end" font-weight="bold" fill="#000" font-family='"Liberation Sans", sans-serif'  stroke="#000" stroke-width="0.05">100</text>
<line x1="27.6" y1="229.4" x2="29.6" y2="229.4" stroke="#bcbcbc" stroke-width="1"/>
<text x="24.4" y="231.74" font-size="6.6" text-anchor="end" font-weight="bold" fill="#000" font-family='"Liberation Sans", sans-serif'  stroke="#000" stroke-width="0.05">150</text>
<line x1="27.6" y1="216.8" x2="29.6" y2="216.8" stroke="#bcbcbc" stroke-width="1"/>
<text x="24.4" y="219.14" font-size="6.6" text-anchor="end" font-weight="bold" fill="#000" font-family='"Liberation Sans", sans-serif'  stroke="#000" stroke-width="0.05">200</text>
<line x1="27.6" y1="204.2" x2="29.6" y2="204.2" stroke="#bcbcbc" stroke-width="1"/>
<text x="24.4" y="206.54" font-size="6.6" text-anchor="end" font-weight="bold" fill="#000" font-family='"Liberation Sans", sans-serif'  stroke="#000" stroke-width="0.05">250</text>
<line x1="27.6" y1="191.6" x2="29.6" y2="191.6" stroke="#bcbcbc" stroke-width="1"/>
<text x="24.4" y="193.94" font-size="6.6" text-anchor="end" font-weight="bold" fill="#000" font-family='"Liberation Sans", sans-serif'  stroke="#000" stroke-width="0.05">300</text>
<line x1="27.6" y1="179" x2="29.6" y2="179" stroke="#bcbcbc" stroke-width="1"/>
<text x="24.4" y="181.34" font-size="6.6" text-anchor="end" font-weight="bold" fill="#000" font-family='"Liberation Sans", sans-serif'  stroke="#000" stroke-width="0.05">350</text>
<line x1="27.6" y1="166.4" x2="29.6" y2="166.4" stroke="#bcbcbc" stroke-width="1"/>
<text x="24.4" y="168.74" font-size="6.6" text-anchor="end" font-weight="bold" fill="#000" font-family='"Liberation Sans", sans-serif'  stroke="#000" stroke-width="0.05">400</text>
<line x1="27.6" y1="153.8" x2="29.6" y2="153.8" stroke="#bcbcbc" stroke-width="1"/>
<text x="24.4" y="156.14" font-size="6.6" text-anchor="end" font-weight="bold" fill="#000" font-family='"Liberation Sans", sans-serif'  stroke="#000" stroke-width="0.05">450</text>
<line x1="29.6" y1="267.2" x2="29.6" y2="269.2" stroke="#bcbcbc" stroke-width="1"/>
<text x="29.6" y="276.54" font-size="6.6" text-anchor="middle" font-weight="bold" fill="#000" font-family='"Liberation Sans", sans-serif'  stroke="#000" stroke-width="0.05">40</text>
<line x1="53.1" y1="267.2" x2="53.1" y2="269.2" stroke="#bcbcbc" stroke-width="1"/>
<text x="53.1" y="276.54" font-size="6.6" text-anchor="middle" font-weight="bold" fill="#000" font-family='"Liberation Sans", sans-serif'  stroke="#000" stroke-width="0.05">80</text>
<line x1="76.6" y1="267.2" x2="76.6" y2="269.2" stroke="#bcbcbc" stroke-width="1"/>
<text x="76.6" y="276.54" font-size="6.6" text-anchor="middle" font-weight="bold" fill="#000" font-family='"Liberation Sans", sans-serif'  stroke="#000" stroke-width="0.05">120</text>
<line x1="100.1" y1="267.2" x2="100.1" y2="269.2" stroke="#bcbcbc" stroke-width="1"/>
<text x="100.1" y="276.54" font-size="6.6" text-anchor="middle" font-weight="bold" fill="#000" font-family='"Liberation Sans", sans-serif'  stroke="#000" stroke-width="0.05">160</text>
<line x1="123.6" y1="267.2" x2="123.6" y2="269.2" stroke="#bcbcbc" stroke-width="1"/>
<text x="123.6" y="276.54" font-size="6.6" text-anchor="middle" font-weight="bold" fill="#000" font-family='"Liberation Sans", sans-serif'  stroke="#000" stroke-width="0.05">200</text>
<line x1="147.1" y1="267.2" x2="147.1" y2="269.2" stroke="#bcbcbc" stroke-width="1"/>
<text x="147.1" y="276.54" font-size="6.6" text-anchor="middle" font-weight="bold" fill="#000" font-family='"Liberation Sans", sans-serif'  stroke="#000" stroke-width="0.05">240</text>
<line x1="170.6" y1="267.2" x2="170.6" y2="269.2" stroke="#bcbcbc" stroke-width="1"/>
<text x="170.6" y="276.54" font-size="6.6" text-anchor="middle" font-weight="bold" fill="#000" font-family='"Liberation Sans", sans-serif'  stroke="#000" stroke-width="0.05">280</text>
<text x="0" y="0" font-size="7.4" font-weight="bold" fill="#000" font-family='"Liberation Sans", sans-serif' textLength="33.8" lengthAdjust="spacingAndGlyphs" transform="translate(9 228.3) rotate(-90)" stroke="#000" stroke-width="0.1">mAs/Slice</text>
<text x="38.7" y="288.6" font-size="7.55" text-anchor="start" font-weight="normal" fill="#000" font-family='"Liberation Sans", sans-serif' textLength="102.2" lengthAdjust="spacing" stroke="#000" stroke-width="0.3">Distance from end of phantom</text>
<text x="143.4" y="288.6" font-size="7.55" text-anchor="start" font-weight="normal" fill="#000" font-family='"Liberation Sans", sans-serif' textLength="17.2" lengthAdjust="spacing" stroke="#000" stroke-width="0.3">(mm)</text>
<text x="89.9" y="300.8" font-size="10" text-anchor="middle" font-weight="bold" fill="#000" font-family='"Liberation Serif", serif'  >c</text>
<line x1="42.4" y1="169.5" x2="52.6" y2="169.5" stroke="#999" stroke-width="0.9"/>
<text x="53.7" y="171.6" font-size="6.5" text-anchor="start" font-weight="bold" fill="#000" font-family='"Liberation Sans", sans-serif' textLength="62.4" lengthAdjust="spacingAndGlyphs" stroke="#000" stroke-width="0.1">Z DOM 405mAs/Slice</text>
<line x1="42.4" y1="182.5" x2="52.6" y2="182.5" stroke="#666" stroke-width="1"/>
<text x="53.7" y="184.6" font-size="6.5" text-anchor="start" font-weight="bold" fill="#000" font-family='"Liberation Sans", sans-serif' textLength="62.4" lengthAdjust="spacingAndGlyphs" stroke="#000" stroke-width="0.1">Z DOM 300mAs/Slice</text>
<line x1="42.4" y1="195.5" x2="52.6" y2="195.5" stroke="#111" stroke-width="1.3"/>
<text x="53.7" y="197.6" font-size="6.5" text-anchor="start" font-weight="bold" fill="#000" font-family='"Liberation Sans", sans-serif' textLength="62.4" lengthAdjust="spacingAndGlyphs" stroke="#000" stroke-width="0.1">Z DOM 250mAs/Slice</text>
<line x1="42.4" y1="208.5" x2="52.6" y2="208.5" stroke="#000" stroke-width="1.8"/>
<text x="53.7" y="210.6" font-size="6.5" text-anchor="start" font-weight="bold" fill="#000" font-family='"Liberation Sans", sans-serif' textLength="62.4" lengthAdjust="spacingAndGlyphs" stroke="#000" stroke-width="0.1">Z DOM 188mAs/Slice</text>
<path d="M30.2 246.3 L30.7 246.3 L31.2 246.3 L31.7 246.3 L32.2 246.3 L32.7 246.3 L33.2 246.3 L33.7 246.3 L34.2 246.3 L34.7 246.3 L35.2 246.3 L35.7 246.3 L36.2 246.3 L36.7 246.3 L37.2 246.3 L37.7 246.3 L38.2 246.3 L38.7 246.3 L39.2 246.3 L39.7 246.3 L40.2 246.3 L40.7 246.3 L41.2 246.3 L41.7 246.3 L42.2 246.3 L42.7 246.3 L43.2 246.3 L43.7 246.3 L44.2 246.3 L44.7 246.3 L45.2 246.3 L45.7 246.3 L46.2 246.3 L46.7 246.3 L47.2 246.3 L47.7 246.3 L48.2 246.3 L48.7 246.3 L49.2 246.3 L49.7 246.3 L50.2 246.3 L50.7 246.3 L51.2 246.3 L51.7 246.3 L52.2 246.3 L52.7 246.3 L53.2 246.3 L53.7 246.3 L54.2 246.3 L54.7 246.3 L55.2 246.3 L55.7 246.3 L56.2 246.3 L56.7 246.29 L57.2 246.28 L57.7 246.26 L58.2 246.23 L58.7 246.2 L59.2 246.16 L59.7 246.11 L60.2 246.06 L60.7 246 L61.2 245.94 L61.7 245.87 L62.2 245.8 L62.7 245.72 L63.2 245.64 L63.7 245.55 L64.2 245.46 L64.7 245.36 L65.2 245.26 L65.7 245.16 L66.2 245.05 L66.7 244.94 L67.2 244.83 L67.7 244.71 L68.2 244.59 L68.7 244.46 L69.2 244.34 L69.7 244.21 L70.2 244.07 L70.7 243.94 L71.2 243.8 L71.7 243.66 L72.2 243.51 L72.7 243.37 L73.2 243.22 L73.7 243.07 L74.2 242.91 L74.7 242.76 L75.2 242.6 L75.7 242.44 L76.2 242.28 L76.7 242.11 L77.2 241.95 L77.7 241.78 L78.2 241.61 L78.7 241.44 L79.2 241.26 L79.7 241.09 L80.2 240.91 L80.7 240.73 L81.2 240.55 L81.7 240.37 L82.2 240.18 L82.7 240 L83.2 239.81 L83.7 239.62 L84.2 239.42 L84.7 239.23 L85.2 239.03 L85.7 238.84 L86.2 238.64 L86.7 238.43 L87.2 238.23 L87.7 238.03 L88.2 237.82 L88.7 237.61 L89.2 237.4 L89.7 237.18 L90.2 236.97 L90.7 236.75 L91.2 236.53 L91.7 236.3 L92.2 236.08 L92.7 235.85 L93.2 235.62 L93.7 235.39 L94.2 235.15 L94.7 234.92 L95.2 234.68 L95.7 234.43 L96.2 234.19 L96.7 233.94 L97.2 233.69 L97.7 233.44 L98.2 233.18 L98.7 232.92 L99.2 232.66 L99.7 232.39 L100.2 232.12 L100.7 231.85 L101.2 231.57 L101.7 231.3 L102.2 231.01 L102.7 230.73 L103.2 230.44 L103.7 230.15 L104.2 229.85 L104.7 229.55 L105.2 229.25 L105.7 228.94 L106.2 228.63 L106.7 228.32 L107.2 228 L107.7 227.67 L108.2 227.35 L108.7 227.02 L109.2 226.68 L109.7 226.34 L110.2 226 L110.7 225.65 L111.2 225.3 L111.7 224.94 L112.2 224.58 L112.7 224.22 L113.2 223.85 L113.7 223.47 L114.2 223.09 L114.7 222.71 L115.2 222.32 L115.7 221.93 L116.2 221.53 L116.7 221.13 L117.2 220.72 L117.7 220.31 L118.2 219.9 L118.7 219.48 L119.2 219.05 L119.7 218.62 L120.2 218.18 L120.7 217.74 L121.2 217.3 L121.7 216.85 L122.2 216.39 L122.7 215.94 L123.2 215.47 L123.7 215 L124.2 214.53 L124.7 214.05 L125.2 213.57 L125.7 213.08 L126.2 212.59 L126.7 212.09 L127.2 211.59 L127.7 211.08 L128.2 210.57 L128.7 210.06 L129.2 209.54 L129.7 209.01 L130.2 208.48 L130.7 207.95 L131.2 207.41 L131.7 206.87 L132.2 206.33 L132.7 205.78 L133.2 205.23 L133.7 204.67 L134.2 204.11 L134.7 203.55 L135.2 202.98 L135.7 202.41 L136.2 201.84 L136.7 201.26 L137.2 200.68 L137.7 200.1 L138.2 199.52 L138.7 198.93 L139.2 198.34 L139.7 197.75 L140.2 197.15 L140.7 196.56 L141.2 195.96 L141.7 195.36 L142.2 194.76 L142.7 194.16 L143.2 193.56 L143.7 192.96 L144.2 192.35 L144.7 191.75 L145.2 191.14 L145.7 190.54 L146.2 189.94 L146.7 189.33 L147.2 188.73 L147.7 188.13 L148.2 187.53 L148.7 186.93 L149.2 186.34 L149.7 185.74 L150.2 185.15 L150.7 184.56 L151.2 183.98 L151.7 183.4 L152.2 182.82 L152.7 182.24 L153.2 181.67 L153.7 181.11 L154.2 180.55 L154.7 179.99 L155.2 179.45 L155.7 178.9 L156.2 178.37 L156.7 177.84 L157.2 177.32 L157.7 176.8 L158.2 176.3 L158.7 175.8 L159.2 175.31 L159.7 174.83 L160.2 174.36 L160.7 173.91 L161.2 173.46 L161.7 173.02 L162.2 172.6 L162.7 172.19 L163.2 171.79 L163.7 171.4 L164.2 171.03 L164.7 170.67 L165.2 170.33 L165.7 170.01 L166.2 169.7 L166.7 169.4 L167.2 169.12 L167.7 168.87 L168.2 168.63 L168.7 168.4 L169.2 168.2 L169.7 168.02 L170.2 167.86" fill="none" stroke="#8c8c8c" stroke-width="0.9" stroke-linejoin="round" stroke-linecap="butt" />
<path d="M30.2 251.3 L30.7 251.3 L31.2 251.3 L31.7 251.3 L32.2 251.3 L32.7 251.3 L33.2 251.3 L33.7 251.3 L34.2 251.3 L34.7 251.3 L35.2 251.3 L35.7 251.3 L36.2 251.3 L36.7 251.3 L37.2 251.3 L37.7 251.3 L38.2 251.3 L38.7 251.3 L39.2 251.3 L39.7 251.3 L40.2 251.3 L40.7 251.3 L41.2 251.3 L41.7 251.3 L42.2 251.3 L42.7 251.3 L43.2 251.3 L43.7 251.3 L44.2 251.3 L44.7 251.3 L45.2 251.3 L45.7 251.3 L46.2 251.3 L46.7 251.3 L47.2 251.3 L47.7 251.3 L48.2 251.3 L48.7 251.3 L49.2 251.3 L49.7 251.3 L50.2 251.3 L50.7 251.3 L51.2 251.3 L51.7 251.3 L52.2 251.3 L52.7 251.3 L53.2 251.3 L53.7 251.3 L54.2 251.3 L54.7 251.3 L55.2 251.3 L55.7 251.3 L56.2 251.3 L56.7 251.3 L57.2 251.3 L57.7 251.3 L58.2 251.3 L58.7 251.29 L59.2 251.28 L59.7 251.27 L60.2 251.25 L60.7 251.22 L61.2 251.19 L61.7 251.16 L62.2 251.12 L62.7 251.08 L63.2 251.03 L63.7 250.98 L64.2 250.92 L64.7 250.87 L65.2 250.8 L65.7 250.74 L66.2 250.67 L66.7 250.6 L67.2 250.53 L67.7 250.45 L68.2 250.37 L68.7 250.29 L69.2 250.21 L69.7 250.12 L70.2 250.03 L70.7 249.94 L71.2 249.85 L71.7 249.75 L72.2 249.66 L72.7 249.56 L73.2 249.46 L73.7 249.35 L74.2 249.25 L74.7 249.14 L75.2 249.04 L75.7 248.93 L76.2 248.82 L76.7 248.71 L77.2 248.59 L77.7 248.48 L78.2 248.36 L78.7 248.24 L79.2 248.13 L79.7 248.01 L80.2 247.88 L80.7 247.76 L81.2 247.64 L81.7 247.51 L82.2 247.39 L82.7 247.26 L83.2 247.13 L83.7 247 L84.2 246.87 L84.7 246.74 L85.2 246.6 L85.7 246.47 L86.2 246.33 L86.7 246.19 L87.2 246.05 L87.7 245.91 L88.2 245.77 L88.7 245.63 L89.2 245.48 L89.7 245.33 L90.2 245.19 L90.7 245.04 L91.2 244.89 L91.7 244.73 L92.2 244.58 L92.7 244.42 L93.2 244.26 L93.7 244.1 L94.2 243.94 L94.7 243.78 L95.2 243.61 L95.7 243.45 L96.2 243.28 L96.7 243.1 L97.2 242.93 L97.7 242.75 L98.2 242.58 L98.7 242.4 L99.2 242.21 L99.7 242.03 L100.2 241.84 L100.7 241.65 L101.2 241.46 L101.7 241.26 L102.2 241.07 L102.7 240.86 L103.2 240.66 L103.7 240.45 L104.2 240.25 L104.7 240.03 L105.2 239.82 L105.7 239.6 L106.2 239.38 L106.7 239.16 L107.2 238.93 L107.7 238.7 L108.2 238.46 L108.7 238.23 L109.2 237.99 L109.7 237.74 L110.2 237.49 L110.7 237.24 L111.2 236.99 L111.7 236.73 L112.2 236.47 L112.7 236.2 L113.2 235.93 L113.7 235.66 L114.2 235.38 L114.7 235.1 L115.2 234.82 L115.7 234.53 L116.2 234.24 L116.7 233.94 L117.2 233.64 L117.7 233.34 L118.2 233.03 L118.7 232.71 L119.2 232.4 L119.7 232.08 L120.2 231.75 L120.7 231.42 L121.2 231.09 L121.7 230.75 L122.2 230.41 L122.7 230.07 L123.2 229.72 L123.7 229.36 L124.2 229 L124.7 228.64 L125.2 228.28 L125.7 227.91 L126.2 227.53 L126.7 227.15 L127.2 226.77 L127.7 226.38 L128.2 225.99 L128.7 225.6 L129.2 225.2 L129.7 224.8 L130.2 224.4 L130.7 223.99 L131.2 223.57 L131.7 223.16 L132.2 222.74 L132.7 222.31 L133.2 221.89 L133.7 221.45 L134.2 221.02 L134.7 220.58 L135.2 220.14 L135.7 219.7 L136.2 219.26 L136.7 218.81 L137.2 218.36 L137.7 217.9 L138.2 217.45 L138.7 216.99 L139.2 216.53 L139.7 216.06 L140.2 215.6 L140.7 215.13 L141.2 214.66 L141.7 214.19 L142.2 213.72 L142.7 213.25 L143.2 212.78 L143.7 212.3 L144.2 211.83 L144.7 211.35 L145.2 210.88 L145.7 210.4 L146.2 209.93 L146.7 209.45 L147.2 208.97 L147.7 208.5 L148.2 208.03 L148.7 207.56 L149.2 207.08 L149.7 206.62 L150.2 206.15 L150.7 205.68 L151.2 205.22 L151.7 204.76 L152.2 204.31 L152.7 203.85 L153.2 203.4 L153.7 202.96 L154.2 202.52 L154.7 202.08 L155.2 201.65 L155.7 201.22 L156.2 200.8 L156.7 200.38 L157.2 199.97 L157.7 199.57 L158.2 199.17 L158.7 198.78 L159.2 198.4 L159.7 198.03 L160.2 197.66 L160.7 197.31 L161.2 196.96 L161.7 196.62 L162.2 196.29 L162.7 195.98 L163.2 195.67 L163.7 195.37 L164.2 195.09 L164.7 194.82 L165.2 194.56 L165.7 194.32 L166.2 194.09 L166.7 193.87 L167.2 193.67 L167.7 193.48 L168.2 193.31 L168.7 193.16 L169.2 193.02 L169.7 192.9 L170.2 192.8" fill="none" stroke="#444" stroke-width="1" stroke-linejoin="round" stroke-linecap="butt" />
<path d="M30.2 254.3 L30.7 254.3 L31.2 254.3 L31.7 254.3 L32.2 254.3 L32.7 254.3 L33.2 254.3 L33.7 254.3 L34.2 254.3 L34.7 254.3 L35.2 254.3 L35.7 254.3 L36.2 254.3 L36.7 254.3 L37.2 254.3 L37.7 254.3 L38.2 254.3 L38.7 254.3 L39.2 254.3 L39.7 254.3 L40.2 254.3 L40.7 254.3 L41.2 254.3 L41.7 254.3 L42.2 254.3 L42.7 254.3 L43.2 254.3 L43.7 254.3 L44.2 254.3 L44.7 254.3 L45.2 254.3 L45.7 254.3 L46.2 254.3 L46.7 254.3 L47.2 254.3 L47.7 254.3 L48.2 254.3 L48.7 254.3 L49.2 254.3 L49.7 254.3 L50.2 254.3 L50.7 254.3 L51.2 254.3 L51.7 254.3 L52.2 254.3 L52.7 254.3 L53.2 254.3 L53.7 254.3 L54.2 254.3 L54.7 254.3 L55.2 254.3 L55.7 254.3 L56.2 254.3 L56.7 254.3 L57.2 254.3 L57.7 254.3 L58.2 254.3 L58.7 254.3 L59.2 254.3 L59.7 254.3 L60.2 254.3 L60.7 254.29 L61.2 254.28 L61.7 254.27 L62.2 254.25 L62.7 254.23 L63.2 254.2 L63.7 254.16 L64.2 254.13 L64.7 254.08 L65.2 254.04 L65.7 253.99 L66.2 253.94 L66.7 253.88 L67.2 253.82 L67.7 253.76 L68.2 253.69 L68.7 253.62 L69.2 253.55 L69.7 253.48 L70.2 253.4 L70.7 253.32 L71.2 253.24 L71.7 253.15 L72.2 253.06 L72.7 252.97 L73.2 252.88 L73.7 252.79 L74.2 252.69 L74.7 252.6 L75.2 252.5 L75.7 252.4 L76.2 252.29 L76.7 252.19 L77.2 252.08 L77.7 251.97 L78.2 251.87 L78.7 251.75 L79.2 251.64 L79.7 251.53 L80.2 251.41 L80.7 251.3 L81.2 251.18 L81.7 251.06 L82.2 250.94 L82.7 250.82 L83.2 250.7 L83.7 250.57 L84.2 250.45 L84.7 250.32 L85.2 250.19 L85.7 250.06 L86.2 249.93 L86.7 249.8 L87.2 249.67 L87.7 249.53 L88.2 249.4 L88.7 249.26 L89.2 249.13 L89.7 248.99 L90.2 248.85 L90.7 248.71 L91.2 248.56 L91.7 248.42 L92.2 248.27 L92.7 248.13 L93.2 247.98 L93.7 247.83 L94.2 247.68 L94.7 247.53 L95.2 247.37 L95.7 247.22 L96.2 247.06 L96.7 246.9 L97.2 246.74 L97.7 246.58 L98.2 246.42 L98.7 246.25 L99.2 246.09 L99.7 245.92 L100.2 245.75 L100.7 245.58 L101.2 245.4 L101.7 245.23 L102.2 245.05 L102.7 244.87 L103.2 244.69 L103.7 244.51 L104.2 244.32 L104.7 244.13 L105.2 243.94 L105.7 243.75 L106.2 243.55 L106.7 243.36 L107.2 243.16 L107.7 242.96 L108.2 242.75 L108.7 242.55 L109.2 242.34 L109.7 242.13 L110.2 241.91 L110.7 241.69 L111.2 241.48 L111.7 241.25 L112.2 241.03 L112.7 240.8 L113.2 240.57 L113.7 240.34 L114.2 240.1 L114.7 239.86 L115.2 239.62 L115.7 239.38 L116.2 239.13 L116.7 238.88 L117.2 238.63 L117.7 238.37 L118.2 238.11 L118.7 237.85 L119.2 237.58 L119.7 237.32 L120.2 237.05 L120.7 236.77 L121.2 236.49 L121.7 236.21 L122.2 235.93 L122.7 235.64 L123.2 235.35 L123.7 235.06 L124.2 234.76 L124.7 234.46 L125.2 234.16 L125.7 233.86 L126.2 233.55 L126.7 233.24 L127.2 232.92 L127.7 232.6 L128.2 232.28 L128.7 231.96 L129.2 231.63 L129.7 231.3 L130.2 230.97 L130.7 230.64 L131.2 230.3 L131.7 229.96 L132.2 229.62 L132.7 229.27 L133.2 228.92 L133.7 228.57 L134.2 228.22 L134.7 227.86 L135.2 227.5 L135.7 227.14 L136.2 226.78 L136.7 226.42 L137.2 226.05 L137.7 225.68 L138.2 225.31 L138.7 224.94 L139.2 224.56 L139.7 224.19 L140.2 223.81 L140.7 223.43 L141.2 223.05 L141.7 222.67 L142.2 222.29 L142.7 221.91 L143.2 221.52 L143.7 221.14 L144.2 220.75 L144.7 220.37 L145.2 219.98 L145.7 219.6 L146.2 219.21 L146.7 218.83 L147.2 218.44 L147.7 218.06 L148.2 217.68 L148.7 217.3 L149.2 216.92 L149.7 216.54 L150.2 216.16 L150.7 215.78 L151.2 215.41 L151.7 215.04 L152.2 214.67 L152.7 214.3 L153.2 213.93 L153.7 213.57 L154.2 213.22 L154.7 212.86 L155.2 212.51 L155.7 212.17 L156.2 211.82 L156.7 211.49 L157.2 211.15 L157.7 210.83 L158.2 210.51 L158.7 210.19 L159.2 209.88 L159.7 209.58 L160.2 209.28 L160.7 208.99 L161.2 208.71 L161.7 208.43 L162.2 208.17 L162.7 207.91 L163.2 207.66 L163.7 207.42 L164.2 207.19 L164.7 206.97 L165.2 206.76 L165.7 206.56 L166.2 206.37 L166.7 206.19 L167.2 206.02 L167.7 205.87 L168.2 205.73 L168.7 205.6 L169.2 205.49 L169.7 205.38 L170.2 205.3" fill="none" stroke="#1a1a1a" stroke-width="1.2" stroke-linejoin="round" stroke-linecap="butt" />
<path d="M30.2 257.5 L30.7 257.5 L31.2 257.5 L31.7 257.5 L32.2 257.5 L32.7 257.5 L33.2 257.5 L33.7 257.5 L34.2 257.5 L34.7 257.5 L35.2 257.5 L35.7 257.5 L36.2 257.5 L36.7 257.5 L37.2 257.5 L37.7 257.5 L38.2 257.5 L38.7 257.5 L39.2 257.5 L39.7 257.5 L40.2 257.5 L40.7 257.5 L41.2 257.5 L41.7 257.5 L42.2 257.5 L42.7 257.5 L43.2 257.5 L43.7 257.5 L44.2 257.5 L44.7 257.5 L45.2 257.5 L45.7 257.5 L46.2 257.5 L46.7 257.5 L47.2 257.5 L47.7 257.5 L48.2 257.5 L48.7 257.5 L49.2 257.5 L49.7 257.5 L50.2 257.5 L50.7 257.5 L51.2 257.5 L51.7 257.5 L52.2 257.5 L52.7 257.5 L53.2 257.5 L53.7 257.5 L54.2 257.5 L54.7 257.5 L55.2 257.5 L55.7 257.5 L56.2 257.5 L56.7 257.5 L57.2 257.5 L57.7 257.5 L58.2 257.5 L58.7 257.5 L59.2 257.5 L59.7 257.5 L60.2 257.5 L60.7 257.5 L61.2 257.5 L61.7 257.5 L62.2 257.5 L62.7 257.49 L63.2 257.49 L63.7 257.47 L64.2 257.45 L64.7 257.43 L65.2 257.4 L65.7 257.37 L66.2 257.33 L66.7 257.29 L67.2 257.25 L67.7 257.2 L68.2 257.15 L68.7 257.1 L69.2 257.04 L69.7 256.98 L70.2 256.92 L70.7 256.86 L71.2 256.79 L71.7 256.72 L72.2 256.64 L72.7 256.57 L73.2 256.49 L73.7 256.41 L74.2 256.33 L74.7 256.24 L75.2 256.16 L75.7 256.07 L76.2 255.98 L76.7 255.89 L77.2 255.79 L77.7 255.7 L78.2 255.6 L78.7 255.51 L79.2 255.41 L79.7 255.31 L80.2 255.2 L80.7 255.1 L81.2 255 L81.7 254.89 L82.2 254.79 L82.7 254.68 L83.2 254.57 L83.7 254.46 L84.2 254.35 L84.7 254.24 L85.2 254.12 L85.7 254.01 L86.2 253.9 L86.7 253.78 L87.2 253.67 L87.7 253.55 L88.2 253.43 L88.7 253.31 L89.2 253.19 L89.7 253.07 L90.2 252.95 L90.7 252.83 L91.2 252.71 L91.7 252.58 L92.2 252.46 L92.7 252.33 L93.2 252.21 L93.7 252.08 L94.2 251.95 L94.7 251.83 L95.2 251.7 L95.7 251.57 L96.2 251.44 L96.7 251.3 L97.2 251.17 L97.7 251.04 L98.2 250.9 L98.7 250.77 L99.2 250.63 L99.7 250.49 L100.2 250.35 L100.7 250.21 L101.2 250.07 L101.7 249.93 L102.2 249.78 L102.7 249.64 L103.2 249.49 L103.7 249.35 L104.2 249.2 L104.7 249.05 L105.2 248.9 L105.7 248.74 L106.2 248.59 L106.7 248.44 L107.2 248.28 L107.7 248.12 L108.2 247.96 L108.7 247.8 L109.2 247.64 L109.7 247.47 L110.2 247.31 L110.7 247.14 L111.2 246.97 L111.7 246.8 L112.2 246.63 L112.7 246.45 L113.2 246.28 L113.7 246.1 L114.2 245.92 L114.7 245.74 L115.2 245.55 L115.7 245.37 L116.2 245.18 L116.7 244.99 L117.2 244.8 L117.7 244.61 L118.2 244.41 L118.7 244.21 L119.2 244.01 L119.7 243.81 L120.2 243.61 L120.7 243.4 L121.2 243.2 L121.7 242.99 L122.2 242.78 L122.7 242.56 L123.2 242.35 L123.7 242.13 L124.2 241.91 L124.7 241.68 L125.2 241.46 L125.7 241.23 L126.2 241.01 L126.7 240.77 L127.2 240.54 L127.7 240.31 L128.2 240.07 L128.7 239.83 L129.2 239.59 L129.7 239.35 L130.2 239.1 L130.7 238.85 L131.2 238.61 L131.7 238.35 L132.2 238.1 L132.7 237.85 L133.2 237.59 L133.7 237.33 L134.2 237.07 L134.7 236.81 L135.2 236.55 L135.7 236.28 L136.2 236.02 L136.7 235.75 L137.2 235.48 L137.7 235.21 L138.2 234.94 L138.7 234.67 L139.2 234.39 L139.7 234.12 L140.2 233.84 L140.7 233.57 L141.2 233.29 L141.7 233.01 L142.2 232.73 L142.7 232.45 L143.2 232.17 L143.7 231.89 L144.2 231.61 L144.7 231.33 L145.2 231.05 L145.7 230.77 L146.2 230.49 L146.7 230.21 L147.2 229.93 L147.7 229.66 L148.2 229.38 L148.7 229.1 L149.2 228.83 L149.7 228.55 L150.2 228.28 L150.7 228.01 L151.2 227.74 L151.7 227.47 L152.2 227.21 L152.7 226.94 L153.2 226.68 L153.7 226.43 L154.2 226.17 L154.7 225.92 L155.2 225.67 L155.7 225.43 L156.2 225.19 L156.7 224.95 L157.2 224.71 L157.7 224.49 L158.2 224.26 L158.7 224.04 L159.2 223.83 L159.7 223.62 L160.2 223.41 L160.7 223.22 L161.2 223.02 L161.7 222.84 L162.2 222.66 L162.7 222.49 L163.2 222.33 L163.7 222.17 L164.2 222.02 L164.7 221.88 L165.2 221.75 L165.7 221.62 L166.2 221.51 L166.7 221.4 L167.2 221.31 L167.7 221.22 L168.2 221.15 L168.7 221.09 L169.2 221.03 L169.7 220.99 L170.2 220.96" fill="none" stroke="#000" stroke-width="1.7" stroke-linejoin="round" stroke-linecap="butt" />
<line x1="209.2" y1="154.7" x2="209.2" y2="266.3" stroke="#bcbcbc" stroke-width="1.3"/>
<line x1="209.2" y1="266.3" x2="354.7" y2="266.3" stroke="#bcbcbc" stroke-width="1.3"/>
<line x1="207.2" y1="266.3" x2="209.2" y2="266.3" stroke="#bcbcbc" stroke-width="1"/>
<text x="203.2" y="268.71" font-size="6.8" text-anchor="end" font-weight="bold" fill="#000" font-family='"Liberation Sans", sans-serif'  stroke="#000" stroke-width="0.05">0</text>
<line x1="207.2" y1="243.98" x2="209.2" y2="243.98" stroke="#bcbcbc" stroke-width="1"/>
<text x="203.2" y="246.39" font-size="6.8" text-anchor="end" font-weight="bold" fill="#000" font-family='"Liberation Sans", sans-serif'  stroke="#000" stroke-width="0.05">10</text>
<line x1="207.2" y1="221.66" x2="209.2" y2="221.66" stroke="#bcbcbc" stroke-width="1"/>
<text x="203.2" y="224.07" font-size="6.8" text-anchor="end" font-weight="bold" fill="#000" font-family='"Liberation Sans", sans-serif'  stroke="#000" stroke-width="0.05">20</text>
<line x1="207.2" y1="199.34" x2="209.2" y2="199.34" stroke="#bcbcbc" stroke-width="1"/>
<text x="203.2" y="201.75" font-size="6.8" text-anchor="end" font-weight="bold" fill="#000" font-family='"Liberation Sans", sans-serif'  stroke="#000" stroke-width="0.05">30</text>
<line x1="207.2" y1="177.02" x2="209.2" y2="177.02" stroke="#bcbcbc" stroke-width="1"/>
<text x="203.2" y="179.43" font-size="6.8" text-anchor="end" font-weight="bold" fill="#000" font-family='"Liberation Sans", sans-serif'  stroke="#000" stroke-width="0.05">40</text>
<line x1="207.2" y1="154.7" x2="209.2" y2="154.7" stroke="#bcbcbc" stroke-width="1"/>
<text x="203.2" y="157.11" font-size="6.8" text-anchor="end" font-weight="bold" fill="#000" font-family='"Liberation Sans", sans-serif'  stroke="#000" stroke-width="0.05">50</text>
<line x1="209.2" y1="266.3" x2="209.2" y2="268.3" stroke="#bcbcbc" stroke-width="1"/>
<text x="209.2" y="277.29" font-size="7" text-anchor="middle" font-weight="bold" fill="#000" font-family='"Liberation Sans", sans-serif'  stroke="#000" stroke-width="0.05">40</text>
<line x1="233.45" y1="266.3" x2="233.45" y2="268.3" stroke="#bcbcbc" stroke-width="1"/>
<text x="233.45" y="277.29" font-size="7" text-anchor="middle" font-weight="bold" fill="#000" font-family='"Liberation Sans", sans-serif'  stroke="#000" stroke-width="0.05">80</text>
<line x1="257.7" y1="266.3" x2="257.7" y2="268.3" stroke="#bcbcbc" stroke-width="1"/>
<text x="257.7" y="277.29" font-size="7" text-anchor="middle" font-weight="bold" fill="#000" font-family='"Liberation Sans", sans-serif'  stroke="#000" stroke-width="0.05">120</text>
<line x1="281.95" y1="266.3" x2="281.95" y2="268.3" stroke="#bcbcbc" stroke-width="1"/>
<text x="281.95" y="277.29" font-size="7" text-anchor="middle" font-weight="bold" fill="#000" font-family='"Liberation Sans", sans-serif'  stroke="#000" stroke-width="0.05">160</text>
<line x1="306.2" y1="266.3" x2="306.2" y2="268.3" stroke="#bcbcbc" stroke-width="1"/>
<text x="306.2" y="277.29" font-size="7" text-anchor="middle" font-weight="bold" fill="#000" font-family='"Liberation Sans", sans-serif'  stroke="#000" stroke-width="0.05">200</text>
<line x1="330.45" y1="266.3" x2="330.45" y2="268.3" stroke="#bcbcbc" stroke-width="1"/>
<text x="330.45" y="277.29" font-size="7" text-anchor="middle" font-weight="bold" fill="#000" font-family='"Liberation Sans", sans-serif'  stroke="#000" stroke-width="0.05">240</text>
<line x1="354.7" y1="266.3" x2="354.7" y2="268.3" stroke="#bcbcbc" stroke-width="1"/>
<text x="354.7" y="277.29" font-size="7" text-anchor="middle" font-weight="bold" fill="#000" font-family='"Liberation Sans", sans-serif'  stroke="#000" stroke-width="0.05">280</text>
<text x="0" y="0" font-size="8" font-weight="normal" fill="#000" font-family='"Liberation Sans", sans-serif' textLength="66.9" lengthAdjust="spacingAndGlyphs" transform="translate(189.5 243) rotate(-90)" stroke="#000" stroke-width="0.3">Measured SD (HU)</text>
<text x="227.6" y="287.8" font-size="7.6" text-anchor="start" font-weight="normal" fill="#000" font-family='"Liberation Sans", sans-serif' textLength="104.5" lengthAdjust="spacing" stroke="#000" stroke-width="0.3">Distance from end of phantom</text>
<text x="338.1" y="287.8" font-size="7.6" text-anchor="start" font-weight="normal" fill="#000" font-family='"Liberation Sans", sans-serif' textLength="18" lengthAdjust="spacing" stroke="#000" stroke-width="0.3">(mm)</text>
<text x="267.5" y="300.8" font-size="9.5" text-anchor="middle" font-weight="normal" fill="#000" font-family='"Liberation Serif", serif'  stroke="#000" stroke-width="0.15">d</text>
<path d="M209.7 258.55 L210.2 258.64 L210.7 258.74 L211.2 258.85 L211.7 258.95 L212.2 259.05 L212.7 259.04 L213.2 258.94 L213.7 258.83 L214.2 258.71 L214.7 258.59 L215.2 258.48 L215.7 258.59 L216.2 258.76 L216.7 258.94 L217.2 259.06 L217.7 258.64 L218.2 258.21 L218.7 257.77 L219.2 257.34 L219.7 257.36 L220.2 257.41 L220.7 257.47 L221.2 257.54 L221.7 257.6 L222.2 257.69 L222.7 257.78 L223.2 257.52 L223.7 257.26 L224.2 256.99 L224.7 256.78 L225.2 256.87 L225.7 256.96 L226.2 257.06 L226.7 257.14 L227.2 257.03 L227.7 256.91 L228.2 256.78 L228.7 256.63 L229.2 256.47 L229.7 256.3 L230.2 256.15 L230.7 256.16 L231.2 256.18 L231.7 256.2 L232.2 256.23 L232.7 256.26 L233.2 256.22 L233.7 255.93 L234.2 255.64 L234.7 255.34 L235.2 255.04 L235.7 254.91 L236.2 255.17 L236.7 255.43 L237.2 255.7 L237.7 255.98 L238.2 256.25 L238.7 256.02 L239.2 255.71 L239.7 255.4 L240.2 255.09 L240.7 254.78 L241.2 254.47 L241.7 254.56 L242.2 254.71 L242.7 254.86 L243.2 255.01 L243.7 255.07 L244.2 254.7 L244.7 254.32 L245.2 253.91 L245.7 253.59 L246.2 253.62 L246.7 253.67 L247.2 253.73 L247.7 253.8 L248.2 253.88 L248.7 253.97 L249.2 253.83 L249.7 253.6 L250.2 253.21 L250.7 252.76 L251.2 252.29 L251.7 251.8 L252.2 251.76 L252.7 251.9 L253.2 252.05 L253.7 252.21 L254.2 252.38 L254.7 252.34 L255.2 251.8 L255.7 251.31 L256.2 250.89 L256.7 250.46 L257.2 250.04 L257.7 249.63 L258.2 249.63 L258.7 249.78 L259.2 249.95 L259.7 250.14 L260.2 250.34 L260.7 250.45 L261.2 250.09 L261.7 249.73 L262.2 249.36 L262.7 249 L263.2 248.67 L263.7 248.35 L264.2 248.08 L264.7 248.15 L265.2 248.08 L265.7 247.99 L266.2 247.89 L266.7 247.57 L267.2 247.13 L267.7 246.68 L268.2 246.22 L268.7 245.78 L269.2 245.38 L269.7 245.24 L270.2 245.21 L270.7 245.38 L271.2 245.54 L271.7 245.68 L272.2 245.32 L272.7 244.78 L273.2 244.22 L273.7 243.65 L274.2 243.07 L274.7 243.32 L275.2 243.68 L275.7 244.05 L276.2 244.49 L276.7 245.02 L277.2 245.36 L277.7 244.71 L278.2 244.05 L278.7 243.36 L279.2 242.66 L279.7 242.73 L280.2 243.12 L280.7 243.51 L281.2 243.92 L281.7 244.32 L282.2 244.68 L282.7 244.67 L283.2 243.94 L283.7 243.19 L284.2 242.42 L284.7 241.65 L285.2 240.88 L285.7 240.09 L286.2 239.6 L286.7 239.4 L287.2 239.2 L287.7 238.98 L288.2 238.54 L288.7 237.48 L289.2 236.4 L289.7 235.3 L290.2 234.21 L290.7 233.41 L291.2 234.04 L291.7 234.7 L292.2 235.39 L292.7 236.11 L293.2 235.74 L293.7 234.51 L294.2 233.28 L294.7 232.04 L295.2 231.63 L295.7 231.64 L296.2 231.64 L296.7 231.55 L297.2 231.45 L297.7 231.36 L298.2 231.26 L298.7 230.47 L299.2 229.52 L299.7 228.55 L300.2 227.55 L300.7 226.52 L301.2 226.33 L301.7 226.57 L302.2 226.84 L302.7 227.13 L303.2 226.76 L303.7 225.84 L304.2 225 L304.7 224.17 L305.2 223.36 L305.7 222.58 L306.2 222.19 L306.7 222.1 L307.2 222.01 L307.7 221.91 L308.2 221.71 L308.7 221.16 L309.2 220.62 L309.7 219.97 L310.2 219.26 L310.7 218.56 L311.2 217.82 L311.7 217.36 L312.2 217.44 L312.7 217.53 L313.2 217.61 L313.7 217.72 L314.2 216.29 L314.7 214.83 L315.2 213.36 L315.7 212.5 L316.2 213.31 L316.7 214.22 L317.2 215.15 L317.7 216.07 L318.2 214.9 L318.7 213.56 L319.2 212.15 L319.7 210.69 L320.2 209.36 L320.7 209.58 L321.2 209.74 L321.7 209.85 L322.2 209.77 L322.7 209.66 L323.2 208.25 L323.7 206.54 L324.2 204.86 L324.7 203.19 L325.2 201.54 L325.7 199.93 L326.2 198.38 L326.7 198.45 L327.2 198.67 L327.7 198.96 L328.2 199.32 L328.7 199.72 L329.2 200.17 L329.7 198.81 L330.2 197.11 L330.7 195.41 L331.2 193.74 L331.7 192.14 L332.2 193.18 L332.7 194.29 L335.2 189 L337.8 178.2 L339 179.5 L340.4 176.8 L341.8 178.5 L343 180.8 L344.5 178 L345.7 175.5 L346.3 165.5 L347.7 162.6 L349.2 155.9 L350.7 164 L352.2 161 L353.6 168.5 L354.7 160" fill="none" stroke="#c0c0c0" stroke-width="2" stroke-linejoin="round" stroke-linecap="butt" />
<path d="M209.7 254.84 L210.2 254.79 L210.7 254.91 L211.2 255.03 L211.7 255.14 L212.2 255.24 L212.7 255.35 L213.2 255.47 L213.7 255.43 L214.2 255.08 L214.7 254.72 L215.2 254.35 L215.7 254.14 L216.2 254.3 L216.7 254.45 L217.2 254.59 L217.7 254.56 L218.2 254.14 L218.7 253.72 L219.2 253.3 L219.7 252.88 L220.2 252.78 L220.7 252.93 L221.2 253.1 L221.7 253.26 L222.2 253.27 L222.7 252.98 L223.2 252.69 L223.7 252.4 L224.2 252.11 L224.7 251.81 L225.2 251.63 L225.7 251.94 L226.2 252.25 L226.7 252.57 L227.2 252.59 L227.7 252.32 L228.2 252.03 L228.7 251.75 L229.2 251.48 L229.7 251.19 L230.2 250.9 L230.7 250.71 L231.2 250.74 L231.7 250.76 L232.2 250.78 L232.7 250.8 L233.2 250.81 L233.7 250.82 L234.2 250.6 L234.7 249.99 L235.2 249.37 L235.7 248.89 L236.2 249.13 L236.7 249.37 L237.2 249.61 L237.7 249.86 L238.2 250.1 L238.7 249.91 L239.2 249.42 L239.7 248.93 L240.2 248.44 L240.7 248.47 L241.2 248.53 L241.7 248.6 L242.2 248.66 L242.7 248.37 L243.2 247.86 L243.7 247.34 L244.2 246.82 L244.7 246.3 L245.2 246.19 L245.7 246.44 L246.2 246.69 L246.7 246.96 L247.2 247.23 L247.7 247.18 L248.2 246.52 L248.7 245.87 L249.2 245.22 L249.7 244.57 L250.2 244 L250.7 244.24 L251.2 244.5 L251.7 244.78 L252.2 245.07 L252.7 245.37 L253.2 245.67 L253.7 245.96 L254.2 245.68 L254.7 245.27 L255.2 244.84 L255.7 244.41 L256.2 244.29 L256.7 244.62 L257.2 244.96 L257.7 245.33 L258.2 245.32 L258.7 244.83 L259.2 244.32 L259.7 243.79 L260.2 243.24 L260.7 242.67 L261.2 242.28 L261.7 242.33 L262.2 242.38 L262.7 242.44 L263.2 242.53 L263.7 242.64 L264.2 242.76 L264.7 242.88 L265.2 242.76 L265.7 242.61 L266.2 242.44 L266.7 242.25 L267.2 242.07 L267.7 241.9 L268.2 241.73 L268.7 241.73 L269.2 241.8 L269.7 241.86 L270.2 241.96 L270.7 242.06 L271.2 242.15 L271.7 242.22 L272.2 241.95 L272.7 241.45 L273.2 240.94 L273.7 240.5 L274.2 240.71 L274.7 240.94 L275.2 241.18 L275.7 241.36 L276.2 241.55 L276.7 241.75 L277.2 241.94 L277.7 241.61 L278.2 241.13 L278.7 240.61 L279.2 240.09 L279.7 239.58 L280.2 239.07 L280.7 239.02 L281.2 239.07 L281.7 239.07 L282.2 239.1 L282.7 239.11 L283.2 239.1 L283.7 239.07 L284.2 238.56 L284.7 237.83 L285.2 237.1 L285.7 236.38 L286.2 235.7 L286.7 236.13 L287.2 236.95 L287.7 237.8 L288.2 238.67 L288.7 238.86 L289.2 238.44 L289.7 238 L290.2 237.54 L290.7 237.05 L291.2 236.59 L291.7 236.05 L292.2 236.36 L292.7 236.85 L293.2 237.34 L293.7 237.82 L294.2 238.3 L294.7 238.77 L295.2 238.55 L295.7 238.06 L296.2 237.57 L296.7 237.06 L297.2 236.45 L297.7 235.88 L298.2 235.4 L298.7 235.68 L299.2 235.96 L299.7 236.23 L300.2 236.47 L300.7 235.54 L301.2 234.59 L301.7 233.63 L302.2 232.93 L302.7 233.14 L303.2 233.37 L303.7 233.61 L304.2 233.86 L304.7 234.12 L305.2 234.39 L305.7 233.99 L306.2 233.26 L306.7 232.54 L307.2 232.14 L307.7 232.27 L308.2 232.41 L308.7 232.55 L309.2 232.68 L309.7 232.81 L310.2 232.94 L310.7 233.05 L311.2 232.65 L311.7 232.25 L312.2 231.85 L312.7 231.62 L313.2 231.91 L313.7 232.28 L314.2 232.65 L314.7 233.01 L315.2 233.38 L315.7 233.26 L316.2 232.37 L316.7 231.46 L317.2 230.55 L317.7 229.64 L318.2 229.3 L318.7 230.05 L319.2 230.82 L319.7 231.62 L320.2 232.29 L320.7 231.7 L321.2 230.59 L321.7 229.43 L322.2 228.21 L322.7 228.18 L323.2 228.49 L323.7 228.81 L324.2 229.14 L324.7 229.48 L325.2 229.78 L325.7 229.9 L326.2 228.92 L326.7 227.9 L327.2 226.84 L327.7 225.73 L328.2 224.59 L328.7 223.42 L329.2 222.26 L329.7 222.2 L330.2 222.27 L330.7 222.37 L331.2 222.48 L331.7 222.56 L332.2 222.63 L332.7 222.07 L333.2 220.97 L333.7 220.1 L334.2 219.25 L334.7 218.42 L335.2 217.62 L335.7 217.43 L336.2 217.55 L336.7 217.68 L337.2 217.8 L337.7 217.9 L338.2 217.99 L338.7 217.86 L339.2 217.33 L339.7 216.77 L340.2 216.22 L340.7 215.73 L341.2 215.28 L341.7 215.26 L342.2 215.4 L342.7 215.59 L343.2 215.77 L343.7 215.94 L344.2 216.05 L344.7 215.87 L345.2 215.68 L345.7 215.48 L346.2 215.28 L346.7 215.1 L347.2 214.93 L347.7 214.78 L348.2 215.38 L348.7 215.84 L349.2 216.07 L349.7 216.3 L350.2 215.57 L350.7 213.81 L351.2 212.04 L351.7 210.26 L352.2 209.04 L352.7 209.07 L353.2 209.11 L353.7 209.17 L354.2 209.23 L354.7 209.31" fill="none" stroke="#9a9a9a" stroke-width="0.8" stroke-linejoin="round" stroke-linecap="butt" />
<path d="M209.7 254.47 L210.2 254.3 L210.7 254.13 L211.2 253.96 L211.7 254.08 L212.2 254.2 L212.7 254.34 L213.2 254.47 L213.7 254.6 L214.2 254.56 L214.7 254.47 L215.2 254.13 L215.7 253.79 L216.2 253.45 L216.7 253.1 L217.2 252.76 L217.7 252.42 L218.2 252.18 L218.7 252.22 L219.2 252.26 L219.7 252.29 L220.2 252.4 L220.7 252.18 L221.2 251.92 L221.7 251.67 L222.2 251.52 L222.7 251.54 L223.2 251.58 L223.7 251.63 L224.2 251.7 L224.7 251.76 L225.2 251.83 L225.7 251.88 L226.2 251.66 L226.7 251.43 L227.2 251.19 L227.7 250.93 L228.2 250.61 L228.7 250.36 L229.2 250.72 L229.7 251.09 L230.2 251.48 L230.7 251.26 L231.2 250.95 L231.7 250.62 L232.2 250.27 L232.7 249.91 L233.2 249.55 L233.7 249.17 L234.2 249.05 L234.7 249.05 L235.2 249.06 L235.7 249.09 L236.2 249.11 L236.7 249.13 L237.2 249.14 L237.7 249.04 L238.2 248.34 L238.7 247.64 L239.2 246.93 L239.7 246.23 L240.2 246.13 L240.7 246.29 L241.2 246.47 L241.7 246.64 L242.2 246.81 L242.7 246.97 L243.2 247.13 L243.7 246.69 L244.2 246.19 L244.7 245.69 L245.2 245.42 L245.7 245.56 L246.2 245.73 L246.7 245.91 L247.2 246.09 L247.7 246.15 L248.2 245.81 L248.7 245.44 L249.2 245.06 L249.7 244.67 L250.2 244.26 L250.7 243.86 L251.2 243.64 L251.7 243.67 L252.2 243.72 L252.7 243.78 L253.2 243.89 L253.7 243.79 L254.2 243.4 L254.7 243 L255.2 242.58 L255.7 242.17 L256.2 241.77 L256.7 242.13 L257.2 242.54 L257.7 242.97 L258.2 243.23 L258.7 242.94 L259.2 242.61 L259.7 242.27 L260.2 241.93 L260.7 241.59 L261.2 241.24 L261.7 241.14 L262.2 241.31 L262.7 241.5 L263.2 241.69 L263.7 241.89 L264.2 242.05 L264.7 241.74 L265.2 241.37 L265.7 240.87 L266.2 240.34 L266.7 240.04 L267.2 239.83 L267.7 239.63 L268.2 239.44 L268.7 239.25 L269.2 239.07 L269.7 238.82 L270.2 238.18 L270.7 237.53 L271.2 236.86 L271.7 236.39 L272.2 236.19 L272.7 235.99 L273.2 235.79 L273.7 236.15 L274.2 236.84 L274.7 237.56 L275.2 238.31 L275.7 239.05 L276.2 239.72 L276.7 239.59 L277.2 239.45 L277.7 239.31 L278.2 239.16 L278.7 238.74 L279.2 238.15 L279.7 237.88 L280.2 237.79 L280.7 237.71 L281.2 237.63 L281.7 237.55 L282.2 237.46 L282.7 237.35 L283.2 237.17 L283.7 236.22 L284.2 235.28 L284.7 234.38 L285.2 234.18 L285.7 234.27 L286.2 234.38 L286.7 234.51 L287.2 234.66 L287.7 234.82 L288.2 234.34 L288.7 233.77 L289.2 233.21 L289.7 232.64 L290.2 232.09 L290.7 231.54 L291.2 231.01 L291.7 231.14 L292.2 232.08 L292.7 233.03 L293.2 233.97 L293.7 233.64 L294.2 232.8 L294.7 231.94 L295.2 231.07 L295.7 230.84 L296.2 231.16 L296.7 231.5 L297.2 231.87 L297.7 232.24 L298.2 232.6 L298.7 232.03 L299.2 231.33 L299.7 230.62 L300.2 229.89 L300.7 229.15 L301.2 228.41 L301.7 228.25 L302.2 228.6 L302.7 228.98 L303.2 229.37 L303.7 229.78 L304.2 230.17 L304.7 229.53 L305.2 228.79 L305.7 228.05 L306.2 227.32 L306.7 226.62 L307.2 226.63 L307.7 227.79 L308.2 228.96 L308.7 230.14 L309.2 229.83 L309.7 229.28 L310.2 228.7 L310.7 228.12 L311.2 227.54 L311.7 226.95 L312.2 226.91 L312.7 227.64 L313.2 228.1 L313.7 228.57 L314.2 229.03 L314.7 228.21 L315.2 227.06 L315.7 225.86 L316.2 225.05 L316.7 225.25 L317.2 225.45 L317.7 225.66 L318.2 225.94 L318.7 226.26 L319.2 226.63 L319.7 226.98 L320.2 226.35 L320.7 225.71 L321.2 225.03 L321.7 224.31 L322.2 223.58 L322.7 222.85 L323.2 223.01 L323.7 223.48 L324.2 223.94 L324.7 224.4 L325.2 224.83 L325.7 224.56 L326.2 223.72 L326.7 222.81 L327.2 221.7 L327.7 220.61 L328.2 219.53 L328.7 218.62 L329.2 218.74 L329.7 218.89 L330.2 219.05 L330.7 219.2 L331.2 219.32 L331.7 218.21 L332.2 216.84 L332.7 215.44 L333.2 214.14 L333.7 214.06 L334.2 214.03 L334.7 214.03 L335.2 214.08 L335.7 214.39 L336.2 214.64 L336.7 214.09 L337.2 213.51 L337.7 212.9 L338.2 212.25 L338.7 211.56 L339.2 210.85 L339.7 210.97 L340.2 211.43 L340.7 211.92 L341.2 212.45 L341.7 213.02 L342.2 213.55 L342.7 213.79 L343.2 213.31 L343.7 212.81 L344.2 212.3 L344.7 211.81 L345.2 211.31 L345.7 211.38 L346.2 211.77 L346.7 212.19 L347.2 212.6 L347.7 213.02 L348.2 213.43 L348.7 213.84 L349.2 213.88 L349.7 213.07 L350.2 211.99 L350.7 210.93 L351.2 209.89 L351.7 208.87 L352.2 207.88 L352.7 206.9 L353.2 207 L353.7 207.11 L354.2 207.23 L354.7 207.36" fill="none" stroke="#3c3c3c" stroke-width="0.9" stroke-linejoin="round" stroke-linecap="butt" />
<path d="M209.7 253.27 L210.2 252.95 L210.7 252.61 L211.2 252.34 L211.7 252.46 L212.2 252.58 L212.7 252.75 L213.2 252.97 L213.7 253.03 L214.2 252.77 L214.7 252.51 L215.2 252.24 L215.7 251.96 L216.2 251.68 L216.7 251.42 L217.2 251.49 L217.7 251.57 L218.2 251.66 L218.7 251.75 L219.2 251.85 L219.7 251.95 L220.2 252.01 L220.7 251.68 L221.2 251.35 L221.7 251.01 L222.2 250.67 L222.7 250.33 L223.2 250.03 L223.7 250.12 L224.2 250.23 L224.7 250.35 L225.2 250.47 L225.7 250.6 L226.2 250.56 L226.7 250.24 L227.2 249.88 L227.7 249.51 L228.2 249.13 L228.7 248.75 L229.2 248.38 L229.7 248.44 L230.2 248.57 L230.7 248.71 L231.2 248.85 L231.7 249 L232.2 249.21 L232.7 249.03 L233.2 248.5 L233.7 247.96 L234.2 247.42 L234.7 246.88 L235.2 246.54 L235.7 246.7 L236.2 246.87 L236.7 247.04 L237.2 247.2 L237.7 247.34 L238.2 247.2 L238.7 246.81 L239.2 246.4 L239.7 245.95 L240.2 245.49 L240.7 245.02 L241.2 244.49 L241.7 244.59 L242.2 244.71 L242.7 244.84 L243.2 244.55 L243.7 243.99 L244.2 243.42 L244.7 242.85 L245.2 242.29 L245.7 241.74 L246.2 241.55 L246.7 241.64 L247.2 241.74 L247.7 241.91 L248.2 242.28 L248.7 242.65 L249.2 242.95 L249.7 242.71 L250.2 242.46 L250.7 242.21 L251.2 241.95 L251.7 241.75 L252.2 241.87 L252.7 242 L253.2 242.07 L253.7 242.07 L254.2 242.05 L254.7 241.65 L255.2 241.08 L255.7 240.49 L256.2 239.87 L256.7 239.6 L257.2 239.65 L257.7 239.71 L258.2 239.79 L258.7 239.88 L259.2 239.98 L259.7 239.92 L260.2 239.66 L260.7 239.39 L261.2 239.12 L261.7 238.84 L262.2 238.55 L262.7 238.27 L263.2 238.01 L263.7 238.27 L264.2 238.55 L264.7 238.84 L265.2 239.13 L265.7 238.94 L266.2 238.19 L266.7 237.43 L267.2 236.64 L267.7 235.86 L268.2 235.3 L268.7 235.42 L269.2 235.55 L269.7 235.67 L270.2 235.77 L270.7 235.86 L271.2 235.95 L271.7 235.94 L272.2 235.32 L272.7 234.69 L273.2 234.07 L273.7 233.45 L274.2 232.85 L274.7 232.65 L275.2 232.9 L275.7 233.17 L276.2 233.44 L276.7 233.7 L277.2 233.63 L277.7 233.11 L278.2 232.59 L278.7 232.08 L279.2 231.59 L279.7 231.12 L280.2 230.87 L280.7 231.15 L281.2 231.43 L281.7 231.73 L282.2 231.46 L282.7 231.02 L283.2 230.57 L283.7 230.15 L284.2 230.12 L284.7 230.08 L285.2 230.04 L285.7 230 L286.2 229.96 L286.7 229.92 L287.2 229.84 L287.7 229.09 L288.2 228.32 L288.7 227.55 L289.2 226.95 L289.7 227.31 L290.2 227.68 L290.7 228.13 L291.2 228 L291.7 227.73 L292.2 227.47 L292.7 227.19 L293.2 226.89 L293.7 226.56 L294.2 226.19 L294.7 226.27 L295.2 226.75 L295.7 227.24 L296.2 227.74 L296.7 228.25 L297.2 228.78 L297.7 229.02 L298.2 228.14 L298.7 227.25 L299.2 226.35 L299.7 225.45 L300.2 224.56 L300.7 223.68 L301.2 222.82 L301.7 222.47 L302.2 222.57 L302.7 222.7 L303.2 223.16 L303.7 223.61 L304.2 224.07 L304.7 224.5 L305.2 224.13 L305.7 223.73 L306.2 223.31 L306.7 222.87 L307.2 222.42 L307.7 221.96 L308.2 221.49 L308.7 221.44 L309.2 221.54 L309.7 221.62 L310.2 221.67 L310.7 221.68 L311.2 221.27 L311.7 220.83 L312.2 220.39 L312.7 219.97 L313.2 219.57 L313.7 219.21 L314.2 219.41 L314.7 220.18 L315.2 221.03 L315.7 221.89 L316.2 222.03 L316.7 221.63 L317.2 221.16 L317.7 220.55 L318.2 219.95 L318.7 219.36 L319.2 218.78 L319.7 218.78 L320.2 218.97 L320.7 219.14 L321.2 219.3 L321.7 219.44 L322.2 219.54 L322.7 219.39 L323.2 218.72 L323.7 217.84 L324.2 216.91 L324.7 216.27 L325.2 216.39 L325.7 216.52 L326.2 216.67 L326.7 216.4 L327.2 215.03 L327.7 213.62 L328.2 212.19 L328.7 211.11 L329.2 210.79 L329.7 210.45 L330.2 210.13 L330.7 209.82 L331.2 209.51 L331.7 209.67 L332.2 209.73 L332.7 209.55 L333.2 209.36 L333.7 209.1 L334.2 208.75 L334.7 208.36 L335.2 208.21 L335.7 208.45 L336.2 208.82 L336.7 208.96 L337.2 209.02 L337.7 208.58 L338.2 208.1 L338.7 207.6 L339.2 207.06 L339.7 206.51 L340.2 205.93 L340.7 205.73 L341.2 205.56 L341.7 205.32 L342.2 204.83 L342.7 204.26 L343.2 203.61 L343.7 202.57 L344.2 201.37 L344.7 200.24 L345.2 199.23 L345.7 198.44 L346.2 197.93 L346.7 198.05 L347.2 198.77 L347.7 199.62 L348.2 200.53 L348.7 201.46 L349.2 202.35 L349.7 203.16 L350.2 203.82 L350.7 203.23 L351.2 202.5 L351.7 201.87 L352.2 201.23 L352.7 200.56 L353.2 199.88 L353.7 199.17 L354.2 199.75 L354.7 200.37" fill="none" stroke="#000" stroke-width="1" stroke-linejoin="round" stroke-linecap="butt" />
<path d="M209.7 252.74 L210.2 252.31 L210.7 251.86 L211.2 251.41 L211.7 251.17 L212.2 251.11 L212.7 251.06 L213.2 251.01 L213.7 250.97 L214.2 250.97 L214.7 251 L215.2 251.03 L215.7 250.83 L216.2 250.36 L216.7 249.88 L217.2 249.4 L217.7 248.93 L218.2 248.45 L218.7 248.46 L219.2 248.64 L219.7 248.83 L220.2 249.04 L220.7 248.98 L221.2 248.66 L221.7 248.31 L222.2 247.98 L222.7 247.64 L223.2 247.3 L223.7 246.97 L224.2 246.94 L224.7 247.08 L225.2 247.24 L225.7 247.43 L226.2 247.62 L226.7 247.37 L227.2 247.03 L227.7 246.67 L228.2 246.29 L228.7 245.91 L229.2 245.52 L229.7 245.14 L230.2 244.92 L230.7 245.03 L231.2 245.15 L231.7 245.27 L232.2 245.4 L232.7 245.53 L233.2 245.29 L233.7 244.8 L234.2 244.31 L234.7 243.83 L235.2 243.36 L235.7 242.88 L236.2 242.56 L236.7 242.61 L237.2 242.65 L237.7 242.67 L238.2 242.68 L238.7 242.66 L239.2 242.62 L239.7 242.58 L240.2 242.54 L240.7 242.33 L241.2 241.92 L241.7 241.51 L242.2 241.12 L242.7 240.74 L243.2 240.35 L243.7 239.96 L244.2 239.56 L244.7 239.39 L245.2 239.42 L245.7 239.46 L246.2 239.48 L246.7 239.5 L247.2 239.53 L247.7 239.59 L248.2 239.66 L248.7 239.6 L249.2 239.13 L249.7 238.66 L250.2 238.2 L250.7 237.74 L251.2 237.28 L251.7 236.81 L252.2 236.68 L252.7 236.84 L253.2 236.99 L253.7 237.15 L254.2 237.25 L254.7 237.19 L255.2 237.13 L255.7 237.08 L256.2 237.04 L256.7 236.53 L257.2 235.92 L257.7 235.3 L258.2 234.67 L258.7 234.35 L259.2 234.14 L259.7 233.92 L260.2 233.7 L260.7 233.48 L261.2 233.25 L261.7 233.16 L262.2 233.15 L262.7 233.05 L263.2 232.72 L263.7 232.39 L264.2 232.07 L264.7 231.75 L265.2 231.42 L265.7 231.24 L266.2 231.34 L266.7 231.44 L267.2 231.55 L267.7 231.65 L268.2 231.67 L268.7 231.27 L269.2 230.86 L269.7 230.44 L270.2 230.02 L270.7 229.59 L271.2 229.15 L271.7 228.91 L272.2 228.88 L272.7 228.83 L273.2 228.79 L273.7 228.75 L274.2 228.71 L274.7 228.68 L275.2 228.66 L275.7 228.64 L276.2 228.32 L276.7 227.94 L277.2 227.56 L277.7 227.17 L278.2 226.79 L278.7 226.48 L279.2 226.65 L279.7 226.8 L280.2 226.95 L280.7 227.09 L281.2 227.23 L281.7 227.36 L282.2 227.5 L282.7 227.64 L283.2 227.33 L283.7 226.69 L284.2 226.06 L284.7 225.39 L285.2 224.73 L285.7 224.07 L286.2 223.56 L286.7 223.53 L287.2 223.49 L287.7 223.44 L288.2 223.38 L288.7 223.32 L289.2 223.26 L289.7 223.13 L290.2 223.02 L290.7 222.76 L291.2 222.31 L291.7 221.86 L292.2 221.43 L292.7 221 L293.2 220.58 L293.7 220.15 L294.2 219.7 L294.7 219.5 L295.2 219.47 L295.7 219.49 L296.2 219.51 L296.7 219.53 L297.2 219.56 L297.7 219.61 L298.2 219.66 L298.7 219.39 L299.2 218.97 L299.7 218.55 L300.2 218.12 L300.7 217.68 L301.2 217.24 L301.7 217.17 L302.2 217.16 L302.7 217.14 L303.2 217.12 L303.7 217.08 L304.2 217.02 L304.7 216.94 L305.2 216.35 L305.7 215.7 L306.2 215.03 L306.7 214.31 L307.2 213.51 L307.7 213.06 L308.2 212.76 L308.7 212.47 L309.2 212.2 L309.7 211.97 L310.2 211.8 L310.7 211.69 L311.2 211.65 L311.7 211.48 L312.2 211.2 L312.7 210.96 L313.2 210.75 L313.7 210.58 L314.2 210.74 L314.7 211.4 L315.2 212.09 L315.7 212.78 L316.2 213.47 L316.7 214.14 L317.2 214.78 L317.7 215.34 L318.2 214.63 L318.7 213.91 L319.2 213.18 L319.7 212.25 L320.2 212.17 L320.7 212.56 L321.2 212.93 L321.7 213.24 L322.2 213.51 L322.7 213.39 L323.2 212.76 L323.7 212.09 L324.2 211.42 L324.7 210.75 L325.2 210.1 L325.7 210.07 L326.2 210.41 L326.7 210.76 L327.2 211.09 L327.7 211.4 L328.2 210.69 L328.7 209.63 L329.2 208.54 L329.7 207.43 L330.2 206.31 L330.7 205.82 L331.2 206.07 L331.7 206.35 L332.2 206.62 L332.7 206.9 L333.2 206.55 L333.7 205.4 L334.2 204.19 L334.7 202.92 L335.2 201.9 L335.7 201.87 L336.2 201.87 L336.7 201.94 L337.2 202.08 L337.7 202.3 L338.2 201.77 L338.7 200.6 L339.2 199.43 L339.7 198.23 L340.2 196.97 L340.7 195.63 L341.2 194.61 L341.7 195.01 L342.2 195.19 L342.7 195.2 L343.2 195.13 L343.7 195.01 L344.2 194.74 L344.7 193.23 L345.2 191.83 L345.7 190.64 L346.2 189.75 L346.7 189.12 L347.2 188.54 L347.7 188.26 L348.2 188 L348.7 188.73 L349.2 190.05 L349.7 191.35 L350.2 192.63 L350.7 193.58 L351.2 193.02 L351.7 192.24 L352.2 190.93 L352.7 189.19 L353.2 187.13 L353.7 184.84 L354.2 182.53 L354.7 181.7" fill="none" stroke="#585858" stroke-width="2.4" stroke-linejoin="round" stroke-linecap="butt" />
<line x1="220.4" y1="171.6" x2="232" y2="171.6" stroke="#4a4a4a" stroke-width="2"/>
<text x="233.2" y="173.9" font-size="6.4" text-anchor="start" font-weight="bold" fill="#000" font-family='"Liberation Sans", sans-serif' textLength="41.2" lengthAdjust="spacingAndGlyphs" stroke="#000" stroke-width="0.1">188 mAs/slice</text>
<line x1="220.4" y1="183.9" x2="232" y2="183.9" stroke="#606060" stroke-width="1.6"/>
<text x="233.2" y="186.2" font-size="6.4" text-anchor="start" font-weight="bold" fill="#000" font-family='"Liberation Sans", sans-serif' textLength="41.2" lengthAdjust="spacingAndGlyphs" stroke="#000" stroke-width="0.1">250 mAs/slice</text>
<line x1="220.4" y1="196.5" x2="232" y2="196.5" stroke="#383838" stroke-width="1"/>
<text x="233.2" y="198.8" font-size="6.4" text-anchor="start" font-weight="bold" fill="#000" font-family='"Liberation Sans", sans-serif' textLength="41.2" lengthAdjust="spacingAndGlyphs" stroke="#000" stroke-width="0.1">300 mAs/slice</text>
<line x1="220.4" y1="208.5" x2="232" y2="208.5" stroke="#999" stroke-width="0.9"/>
<text x="233.2" y="210.8" font-size="6.4" text-anchor="start" font-weight="bold" fill="#000" font-family='"Liberation Sans", sans-serif' textLength="41.2" lengthAdjust="spacingAndGlyphs" stroke="#000" stroke-width="0.1">405 mAs/slice</text>
<line x1="220.4" y1="220.5" x2="232" y2="220.5" stroke="#b0b0b0" stroke-width="1.3"/>
<text x="233.2" y="222.8" font-size="6.4" text-anchor="start" font-weight="bold" fill="#000" font-family='"Liberation Sans", sans-serif' textLength="31" lengthAdjust="spacingAndGlyphs" stroke="#000" stroke-width="0.1">Fixed mAs</text>
</svg>
</body></html>
